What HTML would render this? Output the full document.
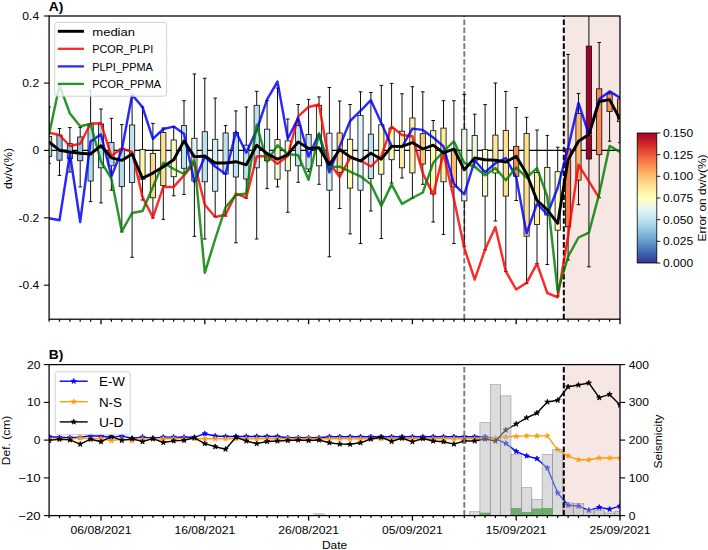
<!DOCTYPE html><html><head><meta charset="utf-8"><title>fig</title><style>html,body{margin:0;padding:0;background:#fff}svg{display:block}text{font-family:"Liberation Sans",sans-serif;fill:#000}</style></head><body>
<svg width="708" height="550" viewBox="0 0 708 550">
<rect width="708" height="550" fill="#fff"/>
<defs><clipPath id="ca"><rect x="49.1" y="16.0" width="570.9" height="303.2"/></clipPath><clipPath id="cb"><rect x="49.1" y="364.6" width="570.9" height="151.0"/></clipPath>
<linearGradient id="cbg" x1="0" y1="1" x2="0" y2="0"><stop offset="0%" stop-color="#313695"/><stop offset="10%" stop-color="#4575b4"/><stop offset="20%" stop-color="#74add1"/><stop offset="30%" stop-color="#abd9e9"/><stop offset="40%" stop-color="#e0f3f8"/><stop offset="50%" stop-color="#ffffbf"/><stop offset="60%" stop-color="#fee090"/><stop offset="70%" stop-color="#fdae61"/><stop offset="80%" stop-color="#f46d43"/><stop offset="90%" stop-color="#d73027"/><stop offset="100%" stop-color="#a50026"/></linearGradient></defs>
<g clip-path="url(#ca)">
<rect x="563.8" y="16.0" width="56.2" height="303.2" fill="#f6e7e4"/>
<line x1="49.1" y1="150.4" x2="620.0" y2="150.4" stroke="#000" stroke-width="1.2"/>
<line x1="464.3" y1="319.2" x2="464.3" y2="16.0" stroke="#7a7a7a" stroke-width="1.9" stroke-dasharray="5.55 2.4"/>
<line x1="563.8" y1="319.2" x2="563.8" y2="16.0" stroke="#000" stroke-width="2.0" stroke-dasharray="5.55 2.4"/>
<path d="M49.1 107.0V136.5M49.1 156.4V163.6M47.3 107.0h3.6M47.3 163.6h3.6" stroke="#000" stroke-width="0.95" fill="none"/>
<rect x="46.5" y="136.5" width="5.2" height="19.9" fill="#abd9e9" stroke="#111" stroke-width="0.85"/>
<line x1="46.5" y1="141.9" x2="51.7" y2="141.9" stroke="#ff8c1a" stroke-width="1"/>
<path d="M59.5 128.5V135.0M59.5 160.2V175.4M57.7 128.5h3.6M57.7 175.4h3.6" stroke="#000" stroke-width="0.95" fill="none"/>
<rect x="56.9" y="135.0" width="5.2" height="25.2" fill="#91c4de" stroke="#111" stroke-width="0.85"/>
<line x1="56.9" y1="150.3" x2="62.1" y2="150.3" stroke="#ff8c1a" stroke-width="1"/>
<path d="M69.9 127.6V143.6M69.9 158.7V172.0M68.1 127.6h3.6M68.1 172.0h3.6" stroke="#000" stroke-width="0.95" fill="none"/>
<rect x="67.3" y="143.6" width="5.2" height="15.1" fill="#91c4de" stroke="#111" stroke-width="0.85"/>
<line x1="67.3" y1="152.0" x2="72.5" y2="152.0" stroke="#ff8c1a" stroke-width="1"/>
<path d="M80.2 127.6V137.0M80.2 160.7V186.9M78.4 127.6h3.6M78.4 186.9h3.6" stroke="#000" stroke-width="0.95" fill="none"/>
<rect x="77.6" y="137.0" width="5.2" height="23.7" fill="#99cae1" stroke="#111" stroke-width="0.85"/>
<line x1="77.6" y1="153.3" x2="82.8" y2="153.3" stroke="#ff8c1a" stroke-width="1"/>
<path d="M90.6 90.7V124.0M90.6 181.0V201.6M88.8 90.7h3.6M88.8 201.6h3.6" stroke="#000" stroke-width="0.95" fill="none"/>
<rect x="88.0" y="124.0" width="5.2" height="57.0" fill="#b2dceb" stroke="#111" stroke-width="0.85"/>
<line x1="88.0" y1="154.0" x2="93.2" y2="154.0" stroke="#ff8c1a" stroke-width="1"/>
<path d="M101.0 109.0V124.0M101.0 167.8V202.9M99.2 109.0h3.6M99.2 202.9h3.6" stroke="#000" stroke-width="0.95" fill="none"/>
<rect x="98.4" y="124.0" width="5.2" height="43.8" fill="#b2dceb" stroke="#111" stroke-width="0.85"/>
<line x1="98.4" y1="145.7" x2="103.6" y2="145.7" stroke="#ff8c1a" stroke-width="1"/>
<path d="M111.4 118.3V142.5M111.4 165.8V190.2M109.6 118.3h3.6M109.6 190.2h3.6" stroke="#000" stroke-width="0.95" fill="none"/>
<rect x="108.8" y="142.5" width="5.2" height="23.3" fill="#b2dceb" stroke="#111" stroke-width="0.85"/>
<line x1="108.8" y1="157.9" x2="114.0" y2="157.9" stroke="#ff8c1a" stroke-width="1"/>
<path d="M121.8 124.6V149.0M121.8 186.4V231.9M120.0 124.6h3.6M120.0 231.9h3.6" stroke="#000" stroke-width="0.95" fill="none"/>
<rect x="119.2" y="149.0" width="5.2" height="37.4" fill="#b2dceb" stroke="#111" stroke-width="0.85"/>
<line x1="119.2" y1="160.4" x2="124.4" y2="160.4" stroke="#ff8c1a" stroke-width="1"/>
<path d="M132.1 96.0V125.0M132.1 182.5V257.3M130.3 96.0h3.6M130.3 257.3h3.6" stroke="#000" stroke-width="0.95" fill="none"/>
<rect x="129.5" y="125.0" width="5.2" height="57.5" fill="#bde2ee" stroke="#111" stroke-width="0.85"/>
<line x1="129.5" y1="154.0" x2="134.7" y2="154.0" stroke="#ff8c1a" stroke-width="1"/>
<path d="M142.5 107.0V149.5M142.5 179.2V200.0M140.7 107.0h3.6M140.7 200.0h3.6" stroke="#000" stroke-width="0.95" fill="none"/>
<rect x="139.9" y="149.5" width="5.2" height="29.7" fill="#fff5af" stroke="#111" stroke-width="0.85"/>
<line x1="139.9" y1="178.2" x2="145.1" y2="178.2" stroke="#ff8c1a" stroke-width="1"/>
<path d="M152.9 123.4V153.4M152.9 197.8V218.1M151.1 123.4h3.6M151.1 218.1h3.6" stroke="#000" stroke-width="0.95" fill="none"/>
<rect x="150.3" y="153.4" width="5.2" height="44.4" fill="#fed687" stroke="#111" stroke-width="0.85"/>
<line x1="150.3" y1="173.1" x2="155.5" y2="173.1" stroke="#ff8c1a" stroke-width="1"/>
<path d="M163.3 128.0V132.5M163.3 185.6V219.4M161.5 128.0h3.6M161.5 219.4h3.6" stroke="#000" stroke-width="0.95" fill="none"/>
<rect x="160.7" y="132.5" width="5.2" height="53.1" fill="#fee090" stroke="#111" stroke-width="0.85"/>
<line x1="160.7" y1="166.8" x2="165.9" y2="166.8" stroke="#ff8c1a" stroke-width="1"/>
<path d="M173.7 127.0V140.0M173.7 176.7V195.8M171.9 127.0h3.6M171.9 195.8h3.6" stroke="#000" stroke-width="0.95" fill="none"/>
<rect x="171.1" y="140.0" width="5.2" height="36.7" fill="#fbfdc7" stroke="#111" stroke-width="0.85"/>
<line x1="171.1" y1="159.7" x2="176.3" y2="159.7" stroke="#ff8c1a" stroke-width="1"/>
<path d="M184.0 100.7V125.6M184.0 168.3V194.5M182.2 100.7h3.6M182.2 194.5h3.6" stroke="#000" stroke-width="0.95" fill="none"/>
<rect x="181.4" y="125.6" width="5.2" height="42.7" fill="#bde2ee" stroke="#111" stroke-width="0.85"/>
<line x1="181.4" y1="140.9" x2="186.6" y2="140.9" stroke="#ff8c1a" stroke-width="1"/>
<path d="M194.4 74.0V138.3M194.4 181.0V236.4M192.6 74.0h3.6M192.6 236.4h3.6" stroke="#000" stroke-width="0.95" fill="none"/>
<rect x="191.8" y="138.3" width="5.2" height="42.7" fill="#e0f3f8" stroke="#111" stroke-width="0.85"/>
<line x1="191.8" y1="156.9" x2="197.0" y2="156.9" stroke="#ff8c1a" stroke-width="1"/>
<path d="M204.8 78.3V131.7M204.8 181.8V239.0M203.0 78.3h3.6M203.0 239.0h3.6" stroke="#000" stroke-width="0.95" fill="none"/>
<rect x="202.2" y="131.7" width="5.2" height="50.1" fill="#bde2ee" stroke="#111" stroke-width="0.85"/>
<line x1="202.2" y1="156.0" x2="207.4" y2="156.0" stroke="#ff8c1a" stroke-width="1"/>
<path d="M215.2 98.1V139.3M215.2 191.2V216.6M213.4 98.1h3.6M213.4 216.6h3.6" stroke="#000" stroke-width="0.95" fill="none"/>
<rect x="212.6" y="139.3" width="5.2" height="51.9" fill="#d5eef5" stroke="#111" stroke-width="0.85"/>
<line x1="212.6" y1="163.0" x2="217.8" y2="163.0" stroke="#ff8c1a" stroke-width="1"/>
<path d="M225.6 125.6V133.0M225.6 174.0V216.1M223.8 125.6h3.6M223.8 216.1h3.6" stroke="#000" stroke-width="0.95" fill="none"/>
<rect x="223.0" y="133.0" width="5.2" height="41.0" fill="#bde2ee" stroke="#111" stroke-width="0.85"/>
<line x1="223.0" y1="163.0" x2="228.2" y2="163.0" stroke="#ff8c1a" stroke-width="1"/>
<path d="M235.9 110.9V132.5M235.9 177.0V242.8M234.1 110.9h3.6M234.1 242.8h3.6" stroke="#000" stroke-width="0.95" fill="none"/>
<rect x="233.3" y="132.5" width="5.2" height="44.5" fill="#bde2ee" stroke="#111" stroke-width="0.85"/>
<line x1="233.3" y1="161.7" x2="238.5" y2="161.7" stroke="#ff8c1a" stroke-width="1"/>
<path d="M246.3 107.0V145.2M246.3 179.0V198.3M244.5 107.0h3.6M244.5 198.3h3.6" stroke="#000" stroke-width="0.95" fill="none"/>
<rect x="243.7" y="145.2" width="5.2" height="33.8" fill="#bde2ee" stroke="#111" stroke-width="0.85"/>
<line x1="243.7" y1="164.8" x2="248.9" y2="164.8" stroke="#ff8c1a" stroke-width="1"/>
<path d="M256.7 91.3V105.3M256.7 167.8V239.0M254.9 91.3h3.6M254.9 239.0h3.6" stroke="#000" stroke-width="0.95" fill="none"/>
<rect x="254.1" y="105.3" width="5.2" height="62.5" fill="#bde2ee" stroke="#111" stroke-width="0.85"/>
<line x1="254.1" y1="145.2" x2="259.3" y2="145.2" stroke="#ff8c1a" stroke-width="1"/>
<path d="M267.1 100.7V129.2M267.1 160.7V188.6M265.3 100.7h3.6M265.3 188.6h3.6" stroke="#000" stroke-width="0.95" fill="none"/>
<rect x="264.5" y="129.2" width="5.2" height="31.5" fill="#d5eef5" stroke="#111" stroke-width="0.85"/>
<line x1="264.5" y1="153.6" x2="269.7" y2="153.6" stroke="#ff8c1a" stroke-width="1"/>
<path d="M277.5 88.0V139.6M277.5 179.2V186.9M275.7 88.0h3.6M275.7 186.9h3.6" stroke="#000" stroke-width="0.95" fill="none"/>
<rect x="274.9" y="139.6" width="5.2" height="39.6" fill="#f5fbd2" stroke="#111" stroke-width="0.85"/>
<line x1="274.9" y1="159.2" x2="280.1" y2="159.2" stroke="#ff8c1a" stroke-width="1"/>
<path d="M287.8 119.0V140.9M287.8 170.8V212.3M286.0 119.0h3.6M286.0 212.3h3.6" stroke="#000" stroke-width="0.95" fill="none"/>
<rect x="285.2" y="140.9" width="5.2" height="29.9" fill="#f1f9da" stroke="#111" stroke-width="0.85"/>
<line x1="285.2" y1="154.6" x2="290.4" y2="154.6" stroke="#ff8c1a" stroke-width="1"/>
<path d="M298.2 104.5V125.6M298.2 165.8V182.3M296.4 104.5h3.6M296.4 182.3h3.6" stroke="#000" stroke-width="0.95" fill="none"/>
<rect x="295.6" y="125.6" width="5.2" height="40.2" fill="#c4e5f0" stroke="#111" stroke-width="0.85"/>
<line x1="295.6" y1="141.9" x2="300.8" y2="141.9" stroke="#ff8c1a" stroke-width="1"/>
<path d="M308.6 99.4V134.5M308.6 169.0V171.6M306.8 99.4h3.6M306.8 171.6h3.6" stroke="#000" stroke-width="0.95" fill="none"/>
<rect x="306.0" y="134.5" width="5.2" height="34.5" fill="#c4e5f0" stroke="#111" stroke-width="0.85"/>
<line x1="306.0" y1="148.5" x2="311.2" y2="148.5" stroke="#ff8c1a" stroke-width="1"/>
<path d="M319.0 96.9V105.5M319.0 165.8V184.3M317.2 96.9h3.6M317.2 184.3h3.6" stroke="#000" stroke-width="0.95" fill="none"/>
<rect x="316.4" y="105.5" width="5.2" height="60.3" fill="#ecf8e1" stroke="#111" stroke-width="0.85"/>
<line x1="316.4" y1="147.7" x2="321.6" y2="147.7" stroke="#ff8c1a" stroke-width="1"/>
<path d="M329.4 87.5V133.2M329.4 190.2V256.8M327.6 87.5h3.6M327.6 256.8h3.6" stroke="#000" stroke-width="0.95" fill="none"/>
<rect x="326.8" y="133.2" width="5.2" height="57.0" fill="#e0f3f8" stroke="#111" stroke-width="0.85"/>
<line x1="326.8" y1="164.8" x2="332.0" y2="164.8" stroke="#ff8c1a" stroke-width="1"/>
<path d="M339.7 101.0V133.0M339.7 172.4V208.5M337.9 101.0h3.6M337.9 208.5h3.6" stroke="#000" stroke-width="0.95" fill="none"/>
<rect x="337.1" y="133.0" width="5.2" height="39.4" fill="#fed98a" stroke="#111" stroke-width="0.85"/>
<line x1="337.1" y1="149.5" x2="342.3" y2="149.5" stroke="#ff8c1a" stroke-width="1"/>
<path d="M350.1 104.5V139.3M350.1 188.1V233.9M348.3 104.5h3.6M348.3 233.9h3.6" stroke="#000" stroke-width="0.95" fill="none"/>
<rect x="347.5" y="139.3" width="5.2" height="48.8" fill="#ffffbf" stroke="#111" stroke-width="0.85"/>
<line x1="347.5" y1="156.9" x2="352.7" y2="156.9" stroke="#ff8c1a" stroke-width="1"/>
<path d="M360.5 91.8V115.4M360.5 190.2V243.6M358.7 91.8h3.6M358.7 243.6h3.6" stroke="#000" stroke-width="0.95" fill="none"/>
<rect x="357.9" y="115.4" width="5.2" height="74.8" fill="#e0f3f8" stroke="#111" stroke-width="0.85"/>
<line x1="357.9" y1="161.0" x2="363.1" y2="161.0" stroke="#ff8c1a" stroke-width="1"/>
<path d="M370.9 92.5V134.2M370.9 178.5V211.0M369.1 92.5h3.6M369.1 211.0h3.6" stroke="#000" stroke-width="0.95" fill="none"/>
<rect x="368.3" y="134.2" width="5.2" height="44.3" fill="#bde2ee" stroke="#111" stroke-width="0.85"/>
<line x1="368.3" y1="153.2" x2="373.5" y2="153.2" stroke="#ff8c1a" stroke-width="1"/>
<path d="M381.3 85.4V124.8M381.3 174.2V238.5M379.5 85.4h3.6M379.5 238.5h3.6" stroke="#000" stroke-width="0.95" fill="none"/>
<rect x="378.7" y="124.8" width="5.2" height="49.4" fill="#fffdbc" stroke="#111" stroke-width="0.85"/>
<line x1="378.7" y1="159.2" x2="383.9" y2="159.2" stroke="#ff8c1a" stroke-width="1"/>
<path d="M391.6 83.4V128.1M391.6 159.7V183.0M389.8 83.4h3.6M389.8 183.0h3.6" stroke="#000" stroke-width="0.95" fill="none"/>
<rect x="389.0" y="128.1" width="5.2" height="31.6" fill="#fffbb9" stroke="#111" stroke-width="0.85"/>
<line x1="389.0" y1="146.4" x2="394.2" y2="146.4" stroke="#ff8c1a" stroke-width="1"/>
<path d="M402.0 93.8V131.2M402.0 167.8V178.0M400.2 93.8h3.6M400.2 178.0h3.6" stroke="#000" stroke-width="0.95" fill="none"/>
<rect x="399.4" y="131.2" width="5.2" height="36.6" fill="#feeaa0" stroke="#111" stroke-width="0.85"/>
<line x1="399.4" y1="146.4" x2="404.6" y2="146.4" stroke="#ff8c1a" stroke-width="1"/>
<path d="M412.4 86.7V118.0M412.4 172.9V198.3M410.6 86.7h3.6M410.6 198.3h3.6" stroke="#000" stroke-width="0.95" fill="none"/>
<rect x="409.8" y="118.0" width="5.2" height="54.9" fill="#fff3ac" stroke="#111" stroke-width="0.85"/>
<line x1="409.8" y1="142.6" x2="415.0" y2="142.6" stroke="#ff8c1a" stroke-width="1"/>
<path d="M422.8 91.8V133.7M422.8 164.0V184.3M421.0 91.8h3.6M421.0 184.3h3.6" stroke="#000" stroke-width="0.95" fill="none"/>
<rect x="420.2" y="133.7" width="5.2" height="30.3" fill="#fdc577" stroke="#111" stroke-width="0.85"/>
<line x1="420.2" y1="149.0" x2="425.4" y2="149.0" stroke="#ff8c1a" stroke-width="1"/>
<path d="M433.2 120.5V130.7M433.2 194.0V222.0M431.4 120.5h3.6M431.4 222.0h3.6" stroke="#000" stroke-width="0.95" fill="none"/>
<rect x="430.6" y="130.7" width="5.2" height="63.3" fill="#fffbb9" stroke="#111" stroke-width="0.85"/>
<line x1="430.6" y1="145.2" x2="435.8" y2="145.2" stroke="#ff8c1a" stroke-width="1"/>
<path d="M443.5 100.7V128.1M443.5 181.8V234.4M441.7 100.7h3.6M441.7 234.4h3.6" stroke="#000" stroke-width="0.95" fill="none"/>
<rect x="440.9" y="128.1" width="5.2" height="53.7" fill="#feeca3" stroke="#111" stroke-width="0.85"/>
<line x1="440.9" y1="152.8" x2="446.1" y2="152.8" stroke="#ff8c1a" stroke-width="1"/>
<path d="M453.9 100.7V149.0M453.9 186.9V243.6M452.1 100.7h3.6M452.1 243.6h3.6" stroke="#000" stroke-width="0.95" fill="none"/>
<rect x="451.3" y="149.0" width="5.2" height="37.9" fill="#fdb86a" stroke="#111" stroke-width="0.85"/>
<line x1="451.3" y1="149.0" x2="456.5" y2="149.0" stroke="#ff8c1a" stroke-width="1"/>
<path d="M464.3 94.3V129.2M464.3 200.9V246.1M462.5 94.3h3.6M462.5 246.1h3.6" stroke="#000" stroke-width="0.95" fill="none"/>
<rect x="461.7" y="129.2" width="5.2" height="71.7" fill="#ecf8e1" stroke="#111" stroke-width="0.85"/>
<line x1="461.7" y1="169.8" x2="466.9" y2="169.8" stroke="#ff8c1a" stroke-width="1"/>
<path d="M474.7 114.2V135.5M474.7 161.0V167.0M472.9 114.2h3.6M472.9 167.0h3.6" stroke="#000" stroke-width="0.95" fill="none"/>
<rect x="472.1" y="135.5" width="5.2" height="25.5" fill="#ecf8e1" stroke="#111" stroke-width="0.85"/>
<line x1="472.1" y1="157.9" x2="477.3" y2="157.9" stroke="#ff8c1a" stroke-width="1"/>
<path d="M485.1 104.6V149.6M485.1 196.1V249.8M483.3 104.6h3.6M483.3 249.8h3.6" stroke="#000" stroke-width="0.95" fill="none"/>
<rect x="482.5" y="149.6" width="5.2" height="46.5" fill="#f5fbd2" stroke="#111" stroke-width="0.85"/>
<line x1="482.5" y1="159.7" x2="487.7" y2="159.7" stroke="#ff8c1a" stroke-width="1"/>
<path d="M495.4 83.0V135.1M495.4 173.0V221.0M493.6 83.0h3.6M493.6 221.0h3.6" stroke="#000" stroke-width="0.95" fill="none"/>
<rect x="492.8" y="135.1" width="5.2" height="37.9" fill="#fee89d" stroke="#111" stroke-width="0.85"/>
<line x1="492.8" y1="160.2" x2="498.0" y2="160.2" stroke="#ff8c1a" stroke-width="1"/>
<path d="M505.8 91.4V130.5M505.8 196.1V271.4M504.0 91.4h3.6M504.0 271.4h3.6" stroke="#000" stroke-width="0.95" fill="none"/>
<rect x="503.2" y="130.5" width="5.2" height="65.6" fill="#fee090" stroke="#111" stroke-width="0.85"/>
<line x1="503.2" y1="162.0" x2="508.4" y2="162.0" stroke="#ff8c1a" stroke-width="1"/>
<path d="M516.2 107.5V146.3M516.2 176.3V200.5M514.4 107.5h3.6M514.4 200.5h3.6" stroke="#000" stroke-width="0.95" fill="none"/>
<rect x="513.6" y="146.3" width="5.2" height="30.0" fill="#f88b51" stroke="#111" stroke-width="0.85"/>
<line x1="513.6" y1="156.3" x2="518.8" y2="156.3" stroke="#ff8c1a" stroke-width="1"/>
<path d="M526.6 117.3V133.5M526.6 236.2V283.6M524.8 117.3h3.6M524.8 283.6h3.6" stroke="#000" stroke-width="0.95" fill="none"/>
<rect x="524.0" y="133.5" width="5.2" height="102.7" fill="#fee090" stroke="#111" stroke-width="0.85"/>
<line x1="524.0" y1="173.7" x2="529.2" y2="173.7" stroke="#ff8c1a" stroke-width="1"/>
<path d="M537.0 130.0V172.5M537.0 224.5V263.7M535.2 130.0h3.6M535.2 263.7h3.6" stroke="#000" stroke-width="0.95" fill="none"/>
<rect x="534.4" y="172.5" width="5.2" height="52.0" fill="#feeca3" stroke="#111" stroke-width="0.85"/>
<line x1="534.4" y1="200.4" x2="539.6" y2="200.4" stroke="#ff8c1a" stroke-width="1"/>
<path d="M547.3 135.4V167.4M547.3 215.0V264.5M545.5 135.4h3.6M545.5 264.5h3.6" stroke="#000" stroke-width="0.95" fill="none"/>
<rect x="544.7" y="167.4" width="5.2" height="47.6" fill="#eef9dd" stroke="#111" stroke-width="0.85"/>
<line x1="544.7" y1="209.8" x2="549.9" y2="209.8" stroke="#ff8c1a" stroke-width="1"/>
<path d="M557.7 147.2V171.7M557.7 230.2V296.0M555.9 147.2h3.6M555.9 296.0h3.6" stroke="#000" stroke-width="0.95" fill="none"/>
<rect x="555.1" y="171.7" width="5.2" height="58.5" fill="#fdfec3" stroke="#111" stroke-width="0.85"/>
<line x1="555.1" y1="223.3" x2="560.3" y2="223.3" stroke="#ff8c1a" stroke-width="1"/>
<path d="M568.1 54.5V148.8M568.1 226.8V260.0M566.3 54.5h3.6M566.3 260.0h3.6" stroke="#000" stroke-width="0.95" fill="none"/>
<rect x="565.5" y="148.8" width="5.2" height="78.0" fill="#f67a49" stroke="#111" stroke-width="0.85"/>
<line x1="565.5" y1="159.7" x2="570.7" y2="159.7" stroke="#ff8c1a" stroke-width="1"/>
<path d="M578.5 93.4V113.5M578.5 180.1V204.7M576.7 93.4h3.6M576.7 204.7h3.6" stroke="#000" stroke-width="0.95" fill="none"/>
<rect x="575.9" y="113.5" width="5.2" height="66.6" fill="#fdb86a" stroke="#111" stroke-width="0.85"/>
<line x1="575.9" y1="141.2" x2="581.1" y2="141.2" stroke="#ff8c1a" stroke-width="1"/>
<path d="M588.9 10.0V46.1M588.9 159.0V266.8M587.1 10.0h3.6M587.1 266.8h3.6" stroke="#000" stroke-width="0.95" fill="none"/>
<rect x="586.3" y="46.1" width="5.2" height="112.9" fill="#a50026" stroke="#111" stroke-width="0.85"/>
<line x1="586.3" y1="134.5" x2="591.5" y2="134.5" stroke="#ff8c1a" stroke-width="1"/>
<path d="M599.2 42.5V88.8M599.2 154.7V197.7M597.4 42.5h3.6M597.4 197.7h3.6" stroke="#000" stroke-width="0.95" fill="none"/>
<rect x="596.6" y="88.8" width="5.2" height="65.9" fill="#f88b51" stroke="#111" stroke-width="0.85"/>
<line x1="596.6" y1="101.5" x2="601.8" y2="101.5" stroke="#ff8c1a" stroke-width="1"/>
<path d="M609.6 92.0V93.9M609.6 111.5V141.2M607.8 92.0h3.6M607.8 141.2h3.6" stroke="#000" stroke-width="0.95" fill="none"/>
<rect x="607.0" y="93.9" width="5.2" height="17.6" fill="#f99455" stroke="#111" stroke-width="0.85"/>
<line x1="607.0" y1="99.6" x2="612.2" y2="99.6" stroke="#ff8c1a" stroke-width="1"/>
<path d="M620.0 97.0V99.0M620.0 121.7V142.7M618.2 97.0h3.6M618.2 142.7h3.6" stroke="#000" stroke-width="0.95" fill="none"/>
<rect x="617.4" y="99.0" width="5.2" height="22.7" fill="#f99455" stroke="#111" stroke-width="0.85"/>
<line x1="617.4" y1="119.4" x2="622.6" y2="119.4" stroke="#ff8c1a" stroke-width="1"/>
<polyline points="49.1,132.7 59.5,135.0 69.9,146.0 80.2,143.7 90.6,123.5 101.0,123.3 111.4,156.0 121.8,148.4 132.1,152.0 142.5,197.0 152.9,217.4 163.3,186.9 173.7,186.9 184.0,175.4 194.4,162.7 204.8,204.7 215.2,217.0 225.6,214.8 235.9,193.6 246.3,197.5 256.7,156.5 267.1,156.0 277.5,163.7 287.8,156.0 298.2,116.4 308.6,107.0 319.0,104.5 329.4,163.0 339.7,177.0 350.1,157.9 360.5,160.4 370.9,166.5 381.3,156.1 391.6,126.6 402.0,135.0 412.4,136.3 422.8,173.2 433.2,194.6 443.5,153.3 453.9,199.0 464.3,247.9 474.7,279.7 485.1,249.5 495.4,227.0 505.8,271.4 516.2,289.5 526.6,282.8 537.0,263.7 547.3,293.0 557.7,297.3 568.1,236.0 578.5,164.8 588.9,181.4 599.2,197.9" fill="none" stroke="#ff0000" stroke-opacity="0.84" stroke-width="2.45" stroke-linejoin="round"/>
<polyline points="49.1,218.3 59.5,220.3 69.9,153.8 80.2,222.0 90.6,141.5 101.0,134.2 111.4,176.5 121.8,150.0 132.1,94.9 142.5,107.0 152.9,138.8 163.3,129.0 173.7,126.6 184.0,133.7 194.4,182.0 204.8,156.5 215.2,166.6 225.6,174.0 235.9,131.7 246.3,152.8 256.7,130.0 267.1,99.4 277.5,81.6 287.8,138.8 298.2,118.0 308.6,156.6 319.0,133.7 329.4,172.4 339.7,146.4 350.1,121.0 360.5,110.9 370.9,100.2 381.3,123.0 391.6,145.9 402.0,147.0 412.4,128.6 422.8,129.9 433.2,137.5 443.5,146.4 453.9,183.8 464.3,194.3 474.7,160.5 485.1,172.2 495.4,163.3 505.8,158.0 516.2,177.3 526.6,233.5 537.0,203.7 547.3,214.4 557.7,187.7 568.1,148.0 578.5,102.9 588.9,134.4 599.2,99.0 609.6,91.4 620.0,97.7" fill="none" stroke="#0000ff" stroke-opacity="0.84" stroke-width="2.45" stroke-linejoin="round"/>
<polyline points="49.1,134.4 59.5,85.0 69.9,113.6 80.2,126.3 90.6,124.0 101.0,161.7 111.4,178.5 121.8,231.4 132.1,213.0 142.5,211.0 152.9,187.0 163.3,162.7 173.7,169.0 184.0,174.0 194.4,160.0 204.8,272.8 215.2,239.0 225.6,207.2 235.9,195.0 246.3,193.5 256.7,124.8 267.1,161.7 277.5,145.2 287.8,154.0 298.2,155.3 308.6,179.8 319.0,133.7 329.4,166.8 339.7,166.7 350.1,171.7 360.5,176.3 370.9,184.4 381.3,205.9 391.6,184.4 402.0,203.9 412.4,198.0 422.8,192.5 433.2,162.8 443.5,151.4 453.9,141.4 464.3,163.0 474.7,166.8 485.1,175.3 495.4,168.0 505.8,180.2 516.2,167.5 526.6,177.5 537.0,168.1 547.3,196.5 557.7,291.7 568.1,256.6 578.5,237.5 588.9,232.7 599.2,193.9 609.6,145.9 620.0,152.0" fill="none" stroke="#008000" stroke-opacity="0.84" stroke-width="2.45" stroke-linejoin="round"/>
<polyline points="49.1,141.9 59.5,150.3 69.9,152.0 80.2,153.3 90.6,154.0 101.0,145.7 111.4,157.9 121.8,160.4 132.1,154.0 142.5,178.2 152.9,173.1 163.3,166.8 173.7,159.7 184.0,140.9 194.4,156.9 204.8,156.0 215.2,163.0 225.6,163.0 235.9,161.7 246.3,164.8 256.7,145.2 267.1,153.6 277.5,159.2 287.8,154.6 298.2,141.9 308.6,148.5 319.0,147.7 329.4,164.8 339.7,149.5 350.1,156.9 360.5,161.0 370.9,153.2 381.3,159.2 391.6,146.4 402.0,146.4 412.4,142.6 422.8,149.0 433.2,145.2 443.5,152.8 453.9,149.0 464.3,169.8 474.7,157.9 485.1,159.7 495.4,160.2 505.8,162.0 516.2,156.3 526.6,173.7 537.0,200.4 547.3,209.8 557.7,223.3 568.1,159.7 578.5,141.2 588.9,134.5 599.2,101.5 609.6,99.6 620.0,119.4" fill="none" stroke="#000" stroke-width="2.9" stroke-linejoin="round"/>
</g>
<rect x="49.1" y="16.0" width="570.9" height="303.2" fill="none" stroke="#000" stroke-width="1.25"/>
<line x1="49.1" y1="319.2" x2="49.1" y2="321.7" stroke="#000" stroke-width="1.2"/>
<line x1="49.1" y1="515.6" x2="49.1" y2="518.1" stroke="#000" stroke-width="1.2"/>
<line x1="59.5" y1="319.2" x2="59.5" y2="321.7" stroke="#000" stroke-width="1.2"/>
<line x1="59.5" y1="515.6" x2="59.5" y2="518.1" stroke="#000" stroke-width="1.2"/>
<line x1="69.9" y1="319.2" x2="69.9" y2="321.7" stroke="#000" stroke-width="1.2"/>
<line x1="69.9" y1="515.6" x2="69.9" y2="518.1" stroke="#000" stroke-width="1.2"/>
<line x1="80.2" y1="319.2" x2="80.2" y2="321.7" stroke="#000" stroke-width="1.2"/>
<line x1="80.2" y1="515.6" x2="80.2" y2="518.1" stroke="#000" stroke-width="1.2"/>
<line x1="90.6" y1="319.2" x2="90.6" y2="321.7" stroke="#000" stroke-width="1.2"/>
<line x1="90.6" y1="515.6" x2="90.6" y2="518.1" stroke="#000" stroke-width="1.2"/>
<line x1="101.0" y1="319.2" x2="101.0" y2="324.2" stroke="#000" stroke-width="1.3"/>
<line x1="101.0" y1="515.6" x2="101.0" y2="520.6" stroke="#000" stroke-width="1.3"/>
<line x1="111.4" y1="319.2" x2="111.4" y2="321.7" stroke="#000" stroke-width="1.2"/>
<line x1="111.4" y1="515.6" x2="111.4" y2="518.1" stroke="#000" stroke-width="1.2"/>
<line x1="121.8" y1="319.2" x2="121.8" y2="321.7" stroke="#000" stroke-width="1.2"/>
<line x1="121.8" y1="515.6" x2="121.8" y2="518.1" stroke="#000" stroke-width="1.2"/>
<line x1="132.1" y1="319.2" x2="132.1" y2="321.7" stroke="#000" stroke-width="1.2"/>
<line x1="132.1" y1="515.6" x2="132.1" y2="518.1" stroke="#000" stroke-width="1.2"/>
<line x1="142.5" y1="319.2" x2="142.5" y2="321.7" stroke="#000" stroke-width="1.2"/>
<line x1="142.5" y1="515.6" x2="142.5" y2="518.1" stroke="#000" stroke-width="1.2"/>
<line x1="152.9" y1="319.2" x2="152.9" y2="321.7" stroke="#000" stroke-width="1.2"/>
<line x1="152.9" y1="515.6" x2="152.9" y2="518.1" stroke="#000" stroke-width="1.2"/>
<line x1="163.3" y1="319.2" x2="163.3" y2="321.7" stroke="#000" stroke-width="1.2"/>
<line x1="163.3" y1="515.6" x2="163.3" y2="518.1" stroke="#000" stroke-width="1.2"/>
<line x1="173.7" y1="319.2" x2="173.7" y2="321.7" stroke="#000" stroke-width="1.2"/>
<line x1="173.7" y1="515.6" x2="173.7" y2="518.1" stroke="#000" stroke-width="1.2"/>
<line x1="184.0" y1="319.2" x2="184.0" y2="321.7" stroke="#000" stroke-width="1.2"/>
<line x1="184.0" y1="515.6" x2="184.0" y2="518.1" stroke="#000" stroke-width="1.2"/>
<line x1="194.4" y1="319.2" x2="194.4" y2="321.7" stroke="#000" stroke-width="1.2"/>
<line x1="194.4" y1="515.6" x2="194.4" y2="518.1" stroke="#000" stroke-width="1.2"/>
<line x1="204.8" y1="319.2" x2="204.8" y2="324.2" stroke="#000" stroke-width="1.3"/>
<line x1="204.8" y1="515.6" x2="204.8" y2="520.6" stroke="#000" stroke-width="1.3"/>
<line x1="215.2" y1="319.2" x2="215.2" y2="321.7" stroke="#000" stroke-width="1.2"/>
<line x1="215.2" y1="515.6" x2="215.2" y2="518.1" stroke="#000" stroke-width="1.2"/>
<line x1="225.6" y1="319.2" x2="225.6" y2="321.7" stroke="#000" stroke-width="1.2"/>
<line x1="225.6" y1="515.6" x2="225.6" y2="518.1" stroke="#000" stroke-width="1.2"/>
<line x1="235.9" y1="319.2" x2="235.9" y2="321.7" stroke="#000" stroke-width="1.2"/>
<line x1="235.9" y1="515.6" x2="235.9" y2="518.1" stroke="#000" stroke-width="1.2"/>
<line x1="246.3" y1="319.2" x2="246.3" y2="321.7" stroke="#000" stroke-width="1.2"/>
<line x1="246.3" y1="515.6" x2="246.3" y2="518.1" stroke="#000" stroke-width="1.2"/>
<line x1="256.7" y1="319.2" x2="256.7" y2="321.7" stroke="#000" stroke-width="1.2"/>
<line x1="256.7" y1="515.6" x2="256.7" y2="518.1" stroke="#000" stroke-width="1.2"/>
<line x1="267.1" y1="319.2" x2="267.1" y2="321.7" stroke="#000" stroke-width="1.2"/>
<line x1="267.1" y1="515.6" x2="267.1" y2="518.1" stroke="#000" stroke-width="1.2"/>
<line x1="277.5" y1="319.2" x2="277.5" y2="321.7" stroke="#000" stroke-width="1.2"/>
<line x1="277.5" y1="515.6" x2="277.5" y2="518.1" stroke="#000" stroke-width="1.2"/>
<line x1="287.8" y1="319.2" x2="287.8" y2="321.7" stroke="#000" stroke-width="1.2"/>
<line x1="287.8" y1="515.6" x2="287.8" y2="518.1" stroke="#000" stroke-width="1.2"/>
<line x1="298.2" y1="319.2" x2="298.2" y2="321.7" stroke="#000" stroke-width="1.2"/>
<line x1="298.2" y1="515.6" x2="298.2" y2="518.1" stroke="#000" stroke-width="1.2"/>
<line x1="308.6" y1="319.2" x2="308.6" y2="324.2" stroke="#000" stroke-width="1.3"/>
<line x1="308.6" y1="515.6" x2="308.6" y2="520.6" stroke="#000" stroke-width="1.3"/>
<line x1="319.0" y1="319.2" x2="319.0" y2="321.7" stroke="#000" stroke-width="1.2"/>
<line x1="319.0" y1="515.6" x2="319.0" y2="518.1" stroke="#000" stroke-width="1.2"/>
<line x1="329.4" y1="319.2" x2="329.4" y2="321.7" stroke="#000" stroke-width="1.2"/>
<line x1="329.4" y1="515.6" x2="329.4" y2="518.1" stroke="#000" stroke-width="1.2"/>
<line x1="339.7" y1="319.2" x2="339.7" y2="321.7" stroke="#000" stroke-width="1.2"/>
<line x1="339.7" y1="515.6" x2="339.7" y2="518.1" stroke="#000" stroke-width="1.2"/>
<line x1="350.1" y1="319.2" x2="350.1" y2="321.7" stroke="#000" stroke-width="1.2"/>
<line x1="350.1" y1="515.6" x2="350.1" y2="518.1" stroke="#000" stroke-width="1.2"/>
<line x1="360.5" y1="319.2" x2="360.5" y2="321.7" stroke="#000" stroke-width="1.2"/>
<line x1="360.5" y1="515.6" x2="360.5" y2="518.1" stroke="#000" stroke-width="1.2"/>
<line x1="370.9" y1="319.2" x2="370.9" y2="321.7" stroke="#000" stroke-width="1.2"/>
<line x1="370.9" y1="515.6" x2="370.9" y2="518.1" stroke="#000" stroke-width="1.2"/>
<line x1="381.3" y1="319.2" x2="381.3" y2="321.7" stroke="#000" stroke-width="1.2"/>
<line x1="381.3" y1="515.6" x2="381.3" y2="518.1" stroke="#000" stroke-width="1.2"/>
<line x1="391.6" y1="319.2" x2="391.6" y2="321.7" stroke="#000" stroke-width="1.2"/>
<line x1="391.6" y1="515.6" x2="391.6" y2="518.1" stroke="#000" stroke-width="1.2"/>
<line x1="402.0" y1="319.2" x2="402.0" y2="321.7" stroke="#000" stroke-width="1.2"/>
<line x1="402.0" y1="515.6" x2="402.0" y2="518.1" stroke="#000" stroke-width="1.2"/>
<line x1="412.4" y1="319.2" x2="412.4" y2="324.2" stroke="#000" stroke-width="1.3"/>
<line x1="412.4" y1="515.6" x2="412.4" y2="520.6" stroke="#000" stroke-width="1.3"/>
<line x1="422.8" y1="319.2" x2="422.8" y2="321.7" stroke="#000" stroke-width="1.2"/>
<line x1="422.8" y1="515.6" x2="422.8" y2="518.1" stroke="#000" stroke-width="1.2"/>
<line x1="433.2" y1="319.2" x2="433.2" y2="321.7" stroke="#000" stroke-width="1.2"/>
<line x1="433.2" y1="515.6" x2="433.2" y2="518.1" stroke="#000" stroke-width="1.2"/>
<line x1="443.5" y1="319.2" x2="443.5" y2="321.7" stroke="#000" stroke-width="1.2"/>
<line x1="443.5" y1="515.6" x2="443.5" y2="518.1" stroke="#000" stroke-width="1.2"/>
<line x1="453.9" y1="319.2" x2="453.9" y2="321.7" stroke="#000" stroke-width="1.2"/>
<line x1="453.9" y1="515.6" x2="453.9" y2="518.1" stroke="#000" stroke-width="1.2"/>
<line x1="464.3" y1="319.2" x2="464.3" y2="321.7" stroke="#000" stroke-width="1.2"/>
<line x1="464.3" y1="515.6" x2="464.3" y2="518.1" stroke="#000" stroke-width="1.2"/>
<line x1="474.7" y1="319.2" x2="474.7" y2="321.7" stroke="#000" stroke-width="1.2"/>
<line x1="474.7" y1="515.6" x2="474.7" y2="518.1" stroke="#000" stroke-width="1.2"/>
<line x1="485.1" y1="319.2" x2="485.1" y2="321.7" stroke="#000" stroke-width="1.2"/>
<line x1="485.1" y1="515.6" x2="485.1" y2="518.1" stroke="#000" stroke-width="1.2"/>
<line x1="495.4" y1="319.2" x2="495.4" y2="321.7" stroke="#000" stroke-width="1.2"/>
<line x1="495.4" y1="515.6" x2="495.4" y2="518.1" stroke="#000" stroke-width="1.2"/>
<line x1="505.8" y1="319.2" x2="505.8" y2="321.7" stroke="#000" stroke-width="1.2"/>
<line x1="505.8" y1="515.6" x2="505.8" y2="518.1" stroke="#000" stroke-width="1.2"/>
<line x1="516.2" y1="319.2" x2="516.2" y2="324.2" stroke="#000" stroke-width="1.3"/>
<line x1="516.2" y1="515.6" x2="516.2" y2="520.6" stroke="#000" stroke-width="1.3"/>
<line x1="526.6" y1="319.2" x2="526.6" y2="321.7" stroke="#000" stroke-width="1.2"/>
<line x1="526.6" y1="515.6" x2="526.6" y2="518.1" stroke="#000" stroke-width="1.2"/>
<line x1="537.0" y1="319.2" x2="537.0" y2="321.7" stroke="#000" stroke-width="1.2"/>
<line x1="537.0" y1="515.6" x2="537.0" y2="518.1" stroke="#000" stroke-width="1.2"/>
<line x1="547.3" y1="319.2" x2="547.3" y2="321.7" stroke="#000" stroke-width="1.2"/>
<line x1="547.3" y1="515.6" x2="547.3" y2="518.1" stroke="#000" stroke-width="1.2"/>
<line x1="557.7" y1="319.2" x2="557.7" y2="321.7" stroke="#000" stroke-width="1.2"/>
<line x1="557.7" y1="515.6" x2="557.7" y2="518.1" stroke="#000" stroke-width="1.2"/>
<line x1="568.1" y1="319.2" x2="568.1" y2="321.7" stroke="#000" stroke-width="1.2"/>
<line x1="568.1" y1="515.6" x2="568.1" y2="518.1" stroke="#000" stroke-width="1.2"/>
<line x1="578.5" y1="319.2" x2="578.5" y2="321.7" stroke="#000" stroke-width="1.2"/>
<line x1="578.5" y1="515.6" x2="578.5" y2="518.1" stroke="#000" stroke-width="1.2"/>
<line x1="588.9" y1="319.2" x2="588.9" y2="321.7" stroke="#000" stroke-width="1.2"/>
<line x1="588.9" y1="515.6" x2="588.9" y2="518.1" stroke="#000" stroke-width="1.2"/>
<line x1="599.2" y1="319.2" x2="599.2" y2="321.7" stroke="#000" stroke-width="1.2"/>
<line x1="599.2" y1="515.6" x2="599.2" y2="518.1" stroke="#000" stroke-width="1.2"/>
<line x1="609.6" y1="319.2" x2="609.6" y2="321.7" stroke="#000" stroke-width="1.2"/>
<line x1="609.6" y1="515.6" x2="609.6" y2="518.1" stroke="#000" stroke-width="1.2"/>
<line x1="620.0" y1="319.2" x2="620.0" y2="324.2" stroke="#000" stroke-width="1.3"/>
<line x1="620.0" y1="515.6" x2="620.0" y2="520.6" stroke="#000" stroke-width="1.3"/>
<line x1="43.9" y1="16.0" x2="49.1" y2="16.0" stroke="#000" stroke-width="1.1"/>
<text transform="translate(39.1,19.9)" font-size="10.9" text-anchor="end" font-weight="normal" fill="#000" textLength="16.8" lengthAdjust="spacingAndGlyphs">0.4</text>
<line x1="43.9" y1="83.1" x2="49.1" y2="83.1" stroke="#000" stroke-width="1.1"/>
<text transform="translate(39.1,87.0)" font-size="10.9" text-anchor="end" font-weight="normal" fill="#000" textLength="16.8" lengthAdjust="spacingAndGlyphs">0.2</text>
<line x1="43.9" y1="150.4" x2="49.1" y2="150.4" stroke="#000" stroke-width="1.1"/>
<text transform="translate(39.1,154.3)" font-size="10.9" text-anchor="end" font-weight="normal" fill="#000" textLength="6.7" lengthAdjust="spacingAndGlyphs">0</text>
<line x1="43.9" y1="217.8" x2="49.1" y2="217.8" stroke="#000" stroke-width="1.1"/>
<text transform="translate(39.1,221.7)" font-size="10.9" text-anchor="end" font-weight="normal" fill="#000" textLength="20.6" lengthAdjust="spacingAndGlyphs">-0.2</text>
<line x1="43.9" y1="285.2" x2="49.1" y2="285.2" stroke="#000" stroke-width="1.1"/>
<text transform="translate(39.1,289.1)" font-size="10.9" text-anchor="end" font-weight="normal" fill="#000" textLength="20.6" lengthAdjust="spacingAndGlyphs">-0.4</text>
<text transform="translate(12.3,168.5) rotate(-90)" font-size="10.9" text-anchor="middle" font-weight="normal" fill="#000" textLength="41.0" lengthAdjust="spacingAndGlyphs">dv/v(%)</text>
<text transform="translate(48.8,10.9)" font-size="12.3" text-anchor="start" font-weight="bold" fill="#000" textLength="14.6" lengthAdjust="spacingAndGlyphs">A)</text>
<rect x="54.7" y="22.4" width="111.9" height="73.8" rx="2.5" fill="#fff" fill-opacity="0.8" stroke="#ccc" stroke-width="0.9"/>
<line x1="57.8" y1="31.3" x2="83.9" y2="31.3" stroke="#000" stroke-opacity="1" stroke-width="2.9"/>
<text transform="translate(92.3,35.5)" font-size="11.7" text-anchor="start" font-weight="normal" fill="#000" textLength="42.7" lengthAdjust="spacingAndGlyphs">median</text>
<line x1="57.8" y1="48.8" x2="83.9" y2="48.8" stroke="#ff0000" stroke-opacity="0.84" stroke-width="2.3"/>
<text transform="translate(92.3,53.0)" font-size="11.7" text-anchor="start" font-weight="normal" fill="#000" textLength="60.9" lengthAdjust="spacingAndGlyphs">PCOR_PLPI</text>
<line x1="57.8" y1="66.4" x2="83.9" y2="66.4" stroke="#0000ff" stroke-opacity="0.84" stroke-width="2.3"/>
<text transform="translate(92.3,70.6)" font-size="11.7" text-anchor="start" font-weight="normal" fill="#000" textLength="60.5" lengthAdjust="spacingAndGlyphs">PLPI_PPMA</text>
<line x1="57.8" y1="83.9" x2="83.9" y2="83.9" stroke="#008000" stroke-opacity="0.84" stroke-width="2.3"/>
<text transform="translate(92.3,88.1)" font-size="11.7" text-anchor="start" font-weight="normal" fill="#000" textLength="68.8" lengthAdjust="spacingAndGlyphs">PCOR_PPMA</text>
<rect x="637.2" y="133" width="19.6" height="130" fill="url(#cbg)" stroke="#000" stroke-width="0.8"/>
<line x1="656.8" y1="263.0" x2="660.3" y2="263.0" stroke="#000" stroke-width="0.9"/>
<text transform="translate(663.0,266.9)" font-size="10.9" text-anchor="start" font-weight="normal" fill="#000" textLength="30.2" lengthAdjust="spacingAndGlyphs">0.000</text>
<line x1="656.8" y1="241.3" x2="660.3" y2="241.3" stroke="#000" stroke-width="0.9"/>
<text transform="translate(663.0,245.2)" font-size="10.9" text-anchor="start" font-weight="normal" fill="#000" textLength="30.2" lengthAdjust="spacingAndGlyphs">0.025</text>
<line x1="656.8" y1="219.7" x2="660.3" y2="219.7" stroke="#000" stroke-width="0.9"/>
<text transform="translate(663.0,223.6)" font-size="10.9" text-anchor="start" font-weight="normal" fill="#000" textLength="30.2" lengthAdjust="spacingAndGlyphs">0.050</text>
<line x1="656.8" y1="198.0" x2="660.3" y2="198.0" stroke="#000" stroke-width="0.9"/>
<text transform="translate(663.0,201.9)" font-size="10.9" text-anchor="start" font-weight="normal" fill="#000" textLength="30.2" lengthAdjust="spacingAndGlyphs">0.075</text>
<line x1="656.8" y1="176.3" x2="660.3" y2="176.3" stroke="#000" stroke-width="0.9"/>
<text transform="translate(663.0,180.2)" font-size="10.9" text-anchor="start" font-weight="normal" fill="#000" textLength="30.2" lengthAdjust="spacingAndGlyphs">0.100</text>
<line x1="656.8" y1="154.7" x2="660.3" y2="154.7" stroke="#000" stroke-width="0.9"/>
<text transform="translate(663.0,158.6)" font-size="10.9" text-anchor="start" font-weight="normal" fill="#000" textLength="30.2" lengthAdjust="spacingAndGlyphs">0.125</text>
<line x1="656.8" y1="133.0" x2="660.3" y2="133.0" stroke="#000" stroke-width="0.9"/>
<text transform="translate(663.0,136.9)" font-size="10.9" text-anchor="start" font-weight="normal" fill="#000" textLength="30.2" lengthAdjust="spacingAndGlyphs">0.150</text>
<text transform="translate(706.0,198.0) rotate(-90)" font-size="10.9" text-anchor="middle" font-weight="normal" fill="#000" textLength="87.0" lengthAdjust="spacingAndGlyphs">Error on dv/v(%)</text>
<g clip-path="url(#cb)">
<rect x="563.8" y="364.6" width="56.2" height="151.0" fill="#f6e7e4"/>
<polyline points="49.1,436.7 59.5,437.3 69.9,437.7 80.2,437.3 90.6,435.8 101.0,436.3 111.4,437.3 121.8,436.1 132.1,438.3 142.5,437.1 152.9,438.1 163.3,437.1 173.7,437.1 184.0,437.3 194.4,437.3 204.8,433.7 215.2,436.0 225.6,436.5 235.9,436.5 246.3,436.5 256.7,436.5 267.1,436.5 277.5,436.5 287.8,437.8 298.2,437.8 308.6,437.8 319.0,437.8 329.4,436.8 339.7,436.8 350.1,436.8 360.5,436.8 370.9,436.8 381.3,436.8 391.6,436.8 402.0,436.8 412.4,436.8 422.8,436.8 433.2,436.8 443.5,436.8 453.9,436.8 464.3,436.8 474.7,436.8 485.1,436.8 495.4,438.7 505.8,443.4 516.2,451.4 526.6,455.9 537.0,458.7 547.3,468.0 557.7,493.0 568.1,505.3 578.5,506.1 588.9,510.4 599.2,507.4 609.6,509.2 620.0,506.1" fill="none" stroke="#0000ff" stroke-width="1.4" stroke-linejoin="round"/>
<polygon points="49.10,433.90 49.73,435.83 51.76,435.83 50.12,437.03 50.75,438.97 49.10,437.77 47.45,438.97 48.08,437.03 46.44,435.83 48.47,435.83" fill="#0000ff" stroke="#0000ff" stroke-width="0.75" stroke-linejoin="miter"/>
<polygon points="59.48,434.50 60.11,436.43 62.14,436.43 60.50,437.63 61.13,439.57 59.48,438.37 57.83,439.57 58.46,437.63 56.82,436.43 58.85,436.43" fill="#0000ff" stroke="#0000ff" stroke-width="0.75" stroke-linejoin="miter"/>
<polygon points="69.86,434.90 70.49,436.83 72.52,436.83 70.88,438.03 71.51,439.97 69.86,438.77 68.21,439.97 68.84,438.03 67.20,436.83 69.23,436.83" fill="#0000ff" stroke="#0000ff" stroke-width="0.75" stroke-linejoin="miter"/>
<polygon points="80.24,434.50 80.87,436.43 82.90,436.43 81.26,437.63 81.89,439.57 80.24,438.37 78.59,439.57 79.22,437.63 77.58,436.43 79.61,436.43" fill="#0000ff" stroke="#0000ff" stroke-width="0.75" stroke-linejoin="miter"/>
<polygon points="90.62,433.00 91.25,434.93 93.28,434.93 91.64,436.13 92.27,438.07 90.62,436.87 88.97,438.07 89.60,436.13 87.96,434.93 89.99,434.93" fill="#0000ff" stroke="#0000ff" stroke-width="0.75" stroke-linejoin="miter"/>
<polygon points="101.00,433.50 101.63,435.43 103.66,435.43 102.02,436.63 102.65,438.57 101.00,437.37 99.35,438.57 99.98,436.63 98.34,435.43 100.37,435.43" fill="#0000ff" stroke="#0000ff" stroke-width="0.75" stroke-linejoin="miter"/>
<polygon points="111.38,434.50 112.01,436.43 114.04,436.43 112.40,437.63 113.03,439.57 111.38,438.37 109.73,439.57 110.36,437.63 108.72,436.43 110.75,436.43" fill="#0000ff" stroke="#0000ff" stroke-width="0.75" stroke-linejoin="miter"/>
<polygon points="121.76,433.30 122.39,435.23 124.42,435.23 122.78,436.43 123.41,438.37 121.76,437.17 120.11,438.37 120.74,436.43 119.10,435.23 121.13,435.23" fill="#0000ff" stroke="#0000ff" stroke-width="0.75" stroke-linejoin="miter"/>
<polygon points="132.14,435.50 132.77,437.43 134.80,437.43 133.16,438.63 133.79,440.57 132.14,439.37 130.49,440.57 131.12,438.63 129.48,437.43 131.51,437.43" fill="#0000ff" stroke="#0000ff" stroke-width="0.75" stroke-linejoin="miter"/>
<polygon points="142.52,434.30 143.15,436.23 145.18,436.23 143.54,437.43 144.17,439.37 142.52,438.17 140.87,439.37 141.50,437.43 139.86,436.23 141.89,436.23" fill="#0000ff" stroke="#0000ff" stroke-width="0.75" stroke-linejoin="miter"/>
<polygon points="152.90,435.30 153.53,437.23 155.56,437.23 153.92,438.43 154.55,440.37 152.90,439.17 151.25,440.37 151.88,438.43 150.24,437.23 152.27,437.23" fill="#0000ff" stroke="#0000ff" stroke-width="0.75" stroke-linejoin="miter"/>
<polygon points="163.28,434.30 163.91,436.23 165.94,436.23 164.30,437.43 164.93,439.37 163.28,438.17 161.63,439.37 162.26,437.43 160.62,436.23 162.65,436.23" fill="#0000ff" stroke="#0000ff" stroke-width="0.75" stroke-linejoin="miter"/>
<polygon points="173.66,434.30 174.29,436.23 176.32,436.23 174.68,437.43 175.31,439.37 173.66,438.17 172.01,439.37 172.64,437.43 171.00,436.23 173.03,436.23" fill="#0000ff" stroke="#0000ff" stroke-width="0.75" stroke-linejoin="miter"/>
<polygon points="184.04,434.50 184.67,436.43 186.70,436.43 185.06,437.63 185.69,439.57 184.04,438.37 182.39,439.57 183.02,437.63 181.38,436.43 183.41,436.43" fill="#0000ff" stroke="#0000ff" stroke-width="0.75" stroke-linejoin="miter"/>
<polygon points="194.42,434.50 195.05,436.43 197.08,436.43 195.44,437.63 196.07,439.57 194.42,438.37 192.77,439.57 193.40,437.63 191.76,436.43 193.79,436.43" fill="#0000ff" stroke="#0000ff" stroke-width="0.75" stroke-linejoin="miter"/>
<polygon points="204.80,430.90 205.43,432.83 207.46,432.83 205.82,434.03 206.45,435.97 204.80,434.77 203.15,435.97 203.78,434.03 202.14,432.83 204.17,432.83" fill="#0000ff" stroke="#0000ff" stroke-width="0.75" stroke-linejoin="miter"/>
<polygon points="215.18,433.20 215.81,435.13 217.84,435.13 216.20,436.33 216.83,438.27 215.18,437.07 213.53,438.27 214.16,436.33 212.52,435.13 214.55,435.13" fill="#0000ff" stroke="#0000ff" stroke-width="0.75" stroke-linejoin="miter"/>
<polygon points="225.56,433.70 226.19,435.63 228.22,435.63 226.58,436.83 227.21,438.77 225.56,437.57 223.91,438.77 224.54,436.83 222.90,435.63 224.93,435.63" fill="#0000ff" stroke="#0000ff" stroke-width="0.75" stroke-linejoin="miter"/>
<polygon points="235.94,433.70 236.57,435.63 238.60,435.63 236.96,436.83 237.59,438.77 235.94,437.57 234.29,438.77 234.92,436.83 233.28,435.63 235.31,435.63" fill="#0000ff" stroke="#0000ff" stroke-width="0.75" stroke-linejoin="miter"/>
<polygon points="246.32,433.70 246.95,435.63 248.98,435.63 247.34,436.83 247.97,438.77 246.32,437.57 244.67,438.77 245.30,436.83 243.66,435.63 245.69,435.63" fill="#0000ff" stroke="#0000ff" stroke-width="0.75" stroke-linejoin="miter"/>
<polygon points="256.70,433.70 257.33,435.63 259.36,435.63 257.72,436.83 258.35,438.77 256.70,437.57 255.05,438.77 255.68,436.83 254.04,435.63 256.07,435.63" fill="#0000ff" stroke="#0000ff" stroke-width="0.75" stroke-linejoin="miter"/>
<polygon points="267.08,433.70 267.71,435.63 269.74,435.63 268.10,436.83 268.73,438.77 267.08,437.57 265.43,438.77 266.06,436.83 264.42,435.63 266.45,435.63" fill="#0000ff" stroke="#0000ff" stroke-width="0.75" stroke-linejoin="miter"/>
<polygon points="277.46,433.70 278.09,435.63 280.12,435.63 278.48,436.83 279.11,438.77 277.46,437.57 275.81,438.77 276.44,436.83 274.80,435.63 276.83,435.63" fill="#0000ff" stroke="#0000ff" stroke-width="0.75" stroke-linejoin="miter"/>
<polygon points="287.84,435.00 288.47,436.93 290.50,436.93 288.86,438.13 289.49,440.07 287.84,438.87 286.19,440.07 286.82,438.13 285.18,436.93 287.21,436.93" fill="#0000ff" stroke="#0000ff" stroke-width="0.75" stroke-linejoin="miter"/>
<polygon points="298.22,435.00 298.85,436.93 300.88,436.93 299.24,438.13 299.87,440.07 298.22,438.87 296.57,440.07 297.20,438.13 295.56,436.93 297.59,436.93" fill="#0000ff" stroke="#0000ff" stroke-width="0.75" stroke-linejoin="miter"/>
<polygon points="308.60,435.00 309.23,436.93 311.26,436.93 309.62,438.13 310.25,440.07 308.60,438.87 306.95,440.07 307.58,438.13 305.94,436.93 307.97,436.93" fill="#0000ff" stroke="#0000ff" stroke-width="0.75" stroke-linejoin="miter"/>
<polygon points="318.98,435.00 319.61,436.93 321.64,436.93 320.00,438.13 320.63,440.07 318.98,438.87 317.33,440.07 317.96,438.13 316.32,436.93 318.35,436.93" fill="#0000ff" stroke="#0000ff" stroke-width="0.75" stroke-linejoin="miter"/>
<polygon points="329.36,434.00 329.99,435.93 332.02,435.93 330.38,437.13 331.01,439.07 329.36,437.87 327.71,439.07 328.34,437.13 326.70,435.93 328.73,435.93" fill="#0000ff" stroke="#0000ff" stroke-width="0.75" stroke-linejoin="miter"/>
<polygon points="339.74,434.00 340.37,435.93 342.40,435.93 340.76,437.13 341.39,439.07 339.74,437.87 338.09,439.07 338.72,437.13 337.08,435.93 339.11,435.93" fill="#0000ff" stroke="#0000ff" stroke-width="0.75" stroke-linejoin="miter"/>
<polygon points="350.12,434.00 350.75,435.93 352.78,435.93 351.14,437.13 351.77,439.07 350.12,437.87 348.47,439.07 349.10,437.13 347.46,435.93 349.49,435.93" fill="#0000ff" stroke="#0000ff" stroke-width="0.75" stroke-linejoin="miter"/>
<polygon points="360.50,434.00 361.13,435.93 363.16,435.93 361.52,437.13 362.15,439.07 360.50,437.87 358.85,439.07 359.48,437.13 357.84,435.93 359.87,435.93" fill="#0000ff" stroke="#0000ff" stroke-width="0.75" stroke-linejoin="miter"/>
<polygon points="370.88,434.00 371.51,435.93 373.54,435.93 371.90,437.13 372.53,439.07 370.88,437.87 369.23,439.07 369.86,437.13 368.22,435.93 370.25,435.93" fill="#0000ff" stroke="#0000ff" stroke-width="0.75" stroke-linejoin="miter"/>
<polygon points="381.26,434.00 381.89,435.93 383.92,435.93 382.28,437.13 382.91,439.07 381.26,437.87 379.61,439.07 380.24,437.13 378.60,435.93 380.63,435.93" fill="#0000ff" stroke="#0000ff" stroke-width="0.75" stroke-linejoin="miter"/>
<polygon points="391.64,434.00 392.27,435.93 394.30,435.93 392.66,437.13 393.29,439.07 391.64,437.87 389.99,439.07 390.62,437.13 388.98,435.93 391.01,435.93" fill="#0000ff" stroke="#0000ff" stroke-width="0.75" stroke-linejoin="miter"/>
<polygon points="402.02,434.00 402.65,435.93 404.68,435.93 403.04,437.13 403.67,439.07 402.02,437.87 400.37,439.07 401.00,437.13 399.36,435.93 401.39,435.93" fill="#0000ff" stroke="#0000ff" stroke-width="0.75" stroke-linejoin="miter"/>
<polygon points="412.40,434.00 413.03,435.93 415.06,435.93 413.42,437.13 414.05,439.07 412.40,437.87 410.75,439.07 411.38,437.13 409.74,435.93 411.77,435.93" fill="#0000ff" stroke="#0000ff" stroke-width="0.75" stroke-linejoin="miter"/>
<polygon points="422.78,434.00 423.41,435.93 425.44,435.93 423.80,437.13 424.43,439.07 422.78,437.87 421.13,439.07 421.76,437.13 420.12,435.93 422.15,435.93" fill="#0000ff" stroke="#0000ff" stroke-width="0.75" stroke-linejoin="miter"/>
<polygon points="433.16,434.00 433.79,435.93 435.82,435.93 434.18,437.13 434.81,439.07 433.16,437.87 431.51,439.07 432.14,437.13 430.50,435.93 432.53,435.93" fill="#0000ff" stroke="#0000ff" stroke-width="0.75" stroke-linejoin="miter"/>
<polygon points="443.54,434.00 444.17,435.93 446.20,435.93 444.56,437.13 445.19,439.07 443.54,437.87 441.89,439.07 442.52,437.13 440.88,435.93 442.91,435.93" fill="#0000ff" stroke="#0000ff" stroke-width="0.75" stroke-linejoin="miter"/>
<polygon points="453.92,434.00 454.55,435.93 456.58,435.93 454.94,437.13 455.57,439.07 453.92,437.87 452.27,439.07 452.90,437.13 451.26,435.93 453.29,435.93" fill="#0000ff" stroke="#0000ff" stroke-width="0.75" stroke-linejoin="miter"/>
<polygon points="464.30,434.00 464.93,435.93 466.96,435.93 465.32,437.13 465.95,439.07 464.30,437.87 462.65,439.07 463.28,437.13 461.64,435.93 463.67,435.93" fill="#0000ff" stroke="#0000ff" stroke-width="0.75" stroke-linejoin="miter"/>
<polygon points="474.68,434.00 475.31,435.93 477.34,435.93 475.70,437.13 476.33,439.07 474.68,437.87 473.03,439.07 473.66,437.13 472.02,435.93 474.05,435.93" fill="#0000ff" stroke="#0000ff" stroke-width="0.75" stroke-linejoin="miter"/>
<polygon points="485.06,434.00 485.69,435.93 487.72,435.93 486.08,437.13 486.71,439.07 485.06,437.87 483.41,439.07 484.04,437.13 482.40,435.93 484.43,435.93" fill="#0000ff" stroke="#0000ff" stroke-width="0.75" stroke-linejoin="miter"/>
<polygon points="495.44,435.90 496.07,437.83 498.10,437.83 496.46,439.03 497.09,440.97 495.44,439.77 493.79,440.97 494.42,439.03 492.78,437.83 494.81,437.83" fill="#0000ff" stroke="#0000ff" stroke-width="0.75" stroke-linejoin="miter"/>
<polygon points="505.82,440.60 506.45,442.53 508.48,442.53 506.84,443.73 507.47,445.67 505.82,444.47 504.17,445.67 504.80,443.73 503.16,442.53 505.19,442.53" fill="#0000ff" stroke="#0000ff" stroke-width="0.75" stroke-linejoin="miter"/>
<polygon points="516.20,448.60 516.83,450.53 518.86,450.53 517.22,451.73 517.85,453.67 516.20,452.47 514.55,453.67 515.18,451.73 513.54,450.53 515.57,450.53" fill="#0000ff" stroke="#0000ff" stroke-width="0.75" stroke-linejoin="miter"/>
<polygon points="526.58,453.10 527.21,455.03 529.24,455.03 527.60,456.23 528.23,458.17 526.58,456.97 524.93,458.17 525.56,456.23 523.92,455.03 525.95,455.03" fill="#0000ff" stroke="#0000ff" stroke-width="0.75" stroke-linejoin="miter"/>
<polygon points="536.96,455.90 537.59,457.83 539.62,457.83 537.98,459.03 538.61,460.97 536.96,459.77 535.31,460.97 535.94,459.03 534.30,457.83 536.33,457.83" fill="#0000ff" stroke="#0000ff" stroke-width="0.75" stroke-linejoin="miter"/>
<polygon points="547.34,465.20 547.97,467.13 550.00,467.13 548.36,468.33 548.99,470.27 547.34,469.07 545.69,470.27 546.32,468.33 544.68,467.13 546.71,467.13" fill="#0000ff" stroke="#0000ff" stroke-width="0.75" stroke-linejoin="miter"/>
<polygon points="557.72,490.20 558.35,492.13 560.38,492.13 558.74,493.33 559.37,495.27 557.72,494.07 556.07,495.27 556.70,493.33 555.06,492.13 557.09,492.13" fill="#0000ff" stroke="#0000ff" stroke-width="0.75" stroke-linejoin="miter"/>
<polygon points="568.10,502.50 568.73,504.43 570.76,504.43 569.12,505.63 569.75,507.57 568.10,506.37 566.45,507.57 567.08,505.63 565.44,504.43 567.47,504.43" fill="#0000ff" stroke="#0000ff" stroke-width="0.75" stroke-linejoin="miter"/>
<polygon points="578.48,503.30 579.11,505.23 581.14,505.23 579.50,506.43 580.13,508.37 578.48,507.17 576.83,508.37 577.46,506.43 575.82,505.23 577.85,505.23" fill="#0000ff" stroke="#0000ff" stroke-width="0.75" stroke-linejoin="miter"/>
<polygon points="588.86,507.60 589.49,509.53 591.52,509.53 589.88,510.73 590.51,512.67 588.86,511.47 587.21,512.67 587.84,510.73 586.20,509.53 588.23,509.53" fill="#0000ff" stroke="#0000ff" stroke-width="0.75" stroke-linejoin="miter"/>
<polygon points="599.24,504.60 599.87,506.53 601.90,506.53 600.26,507.73 600.89,509.67 599.24,508.47 597.59,509.67 598.22,507.73 596.58,506.53 598.61,506.53" fill="#0000ff" stroke="#0000ff" stroke-width="0.75" stroke-linejoin="miter"/>
<polygon points="609.62,506.40 610.25,508.33 612.28,508.33 610.64,509.53 611.27,511.47 609.62,510.27 607.97,511.47 608.60,509.53 606.96,508.33 608.99,508.33" fill="#0000ff" stroke="#0000ff" stroke-width="0.75" stroke-linejoin="miter"/>
<polygon points="620.00,503.30 620.63,505.23 622.66,505.23 621.02,506.43 621.65,508.37 620.00,507.17 618.35,508.37 618.98,506.43 617.34,505.23 619.37,505.23" fill="#0000ff" stroke="#0000ff" stroke-width="0.75" stroke-linejoin="miter"/>
<polyline points="49.1,439.1 59.5,438.7 69.9,439.1 80.2,437.9 90.6,438.7 101.0,438.7 111.4,440.7 121.8,439.1 132.1,440.7 142.5,439.1 152.9,439.1 163.3,438.7 173.7,438.7 184.0,438.8 194.4,438.8 204.8,438.8 215.2,438.8 225.6,438.8 235.9,438.8 246.3,438.8 256.7,438.8 267.1,438.8 277.5,438.8 287.8,438.8 298.2,438.8 308.6,438.8 319.0,438.8 329.4,438.8 339.7,438.8 350.1,438.8 360.5,438.8 370.9,438.8 381.3,438.8 391.6,438.8 402.0,438.8 412.4,438.8 422.8,438.8 433.2,438.8 443.5,438.8 453.9,438.8 464.3,438.8 474.7,438.8 485.1,438.8 495.4,438.0 505.8,436.9 516.2,436.4 526.6,435.9 537.0,435.9 547.3,435.9 557.7,449.8 568.1,455.9 578.5,459.8 588.9,459.8 599.2,458.0 609.6,458.0 620.0,458.0" fill="none" stroke="#ff9d0a" stroke-width="1.4" stroke-linejoin="round"/>
<polygon points="49.10,436.30 49.73,438.23 51.76,438.23 50.12,439.43 50.75,441.37 49.10,440.17 47.45,441.37 48.08,439.43 46.44,438.23 48.47,438.23" fill="#ff9d0a" stroke="#ff9d0a" stroke-width="0.75" stroke-linejoin="miter"/>
<polygon points="59.48,435.90 60.11,437.83 62.14,437.83 60.50,439.03 61.13,440.97 59.48,439.77 57.83,440.97 58.46,439.03 56.82,437.83 58.85,437.83" fill="#ff9d0a" stroke="#ff9d0a" stroke-width="0.75" stroke-linejoin="miter"/>
<polygon points="69.86,436.30 70.49,438.23 72.52,438.23 70.88,439.43 71.51,441.37 69.86,440.17 68.21,441.37 68.84,439.43 67.20,438.23 69.23,438.23" fill="#ff9d0a" stroke="#ff9d0a" stroke-width="0.75" stroke-linejoin="miter"/>
<polygon points="80.24,435.10 80.87,437.03 82.90,437.03 81.26,438.23 81.89,440.17 80.24,438.97 78.59,440.17 79.22,438.23 77.58,437.03 79.61,437.03" fill="#ff9d0a" stroke="#ff9d0a" stroke-width="0.75" stroke-linejoin="miter"/>
<polygon points="90.62,435.90 91.25,437.83 93.28,437.83 91.64,439.03 92.27,440.97 90.62,439.77 88.97,440.97 89.60,439.03 87.96,437.83 89.99,437.83" fill="#ff9d0a" stroke="#ff9d0a" stroke-width="0.75" stroke-linejoin="miter"/>
<polygon points="101.00,435.90 101.63,437.83 103.66,437.83 102.02,439.03 102.65,440.97 101.00,439.77 99.35,440.97 99.98,439.03 98.34,437.83 100.37,437.83" fill="#ff9d0a" stroke="#ff9d0a" stroke-width="0.75" stroke-linejoin="miter"/>
<polygon points="111.38,437.90 112.01,439.83 114.04,439.83 112.40,441.03 113.03,442.97 111.38,441.77 109.73,442.97 110.36,441.03 108.72,439.83 110.75,439.83" fill="#ff9d0a" stroke="#ff9d0a" stroke-width="0.75" stroke-linejoin="miter"/>
<polygon points="121.76,436.30 122.39,438.23 124.42,438.23 122.78,439.43 123.41,441.37 121.76,440.17 120.11,441.37 120.74,439.43 119.10,438.23 121.13,438.23" fill="#ff9d0a" stroke="#ff9d0a" stroke-width="0.75" stroke-linejoin="miter"/>
<polygon points="132.14,437.90 132.77,439.83 134.80,439.83 133.16,441.03 133.79,442.97 132.14,441.77 130.49,442.97 131.12,441.03 129.48,439.83 131.51,439.83" fill="#ff9d0a" stroke="#ff9d0a" stroke-width="0.75" stroke-linejoin="miter"/>
<polygon points="142.52,436.30 143.15,438.23 145.18,438.23 143.54,439.43 144.17,441.37 142.52,440.17 140.87,441.37 141.50,439.43 139.86,438.23 141.89,438.23" fill="#ff9d0a" stroke="#ff9d0a" stroke-width="0.75" stroke-linejoin="miter"/>
<polygon points="152.90,436.30 153.53,438.23 155.56,438.23 153.92,439.43 154.55,441.37 152.90,440.17 151.25,441.37 151.88,439.43 150.24,438.23 152.27,438.23" fill="#ff9d0a" stroke="#ff9d0a" stroke-width="0.75" stroke-linejoin="miter"/>
<polygon points="163.28,435.90 163.91,437.83 165.94,437.83 164.30,439.03 164.93,440.97 163.28,439.77 161.63,440.97 162.26,439.03 160.62,437.83 162.65,437.83" fill="#ff9d0a" stroke="#ff9d0a" stroke-width="0.75" stroke-linejoin="miter"/>
<polygon points="173.66,435.90 174.29,437.83 176.32,437.83 174.68,439.03 175.31,440.97 173.66,439.77 172.01,440.97 172.64,439.03 171.00,437.83 173.03,437.83" fill="#ff9d0a" stroke="#ff9d0a" stroke-width="0.75" stroke-linejoin="miter"/>
<polygon points="184.04,436.00 184.67,437.93 186.70,437.93 185.06,439.13 185.69,441.07 184.04,439.87 182.39,441.07 183.02,439.13 181.38,437.93 183.41,437.93" fill="#ff9d0a" stroke="#ff9d0a" stroke-width="0.75" stroke-linejoin="miter"/>
<polygon points="194.42,436.00 195.05,437.93 197.08,437.93 195.44,439.13 196.07,441.07 194.42,439.87 192.77,441.07 193.40,439.13 191.76,437.93 193.79,437.93" fill="#ff9d0a" stroke="#ff9d0a" stroke-width="0.75" stroke-linejoin="miter"/>
<polygon points="204.80,436.00 205.43,437.93 207.46,437.93 205.82,439.13 206.45,441.07 204.80,439.87 203.15,441.07 203.78,439.13 202.14,437.93 204.17,437.93" fill="#ff9d0a" stroke="#ff9d0a" stroke-width="0.75" stroke-linejoin="miter"/>
<polygon points="215.18,436.00 215.81,437.93 217.84,437.93 216.20,439.13 216.83,441.07 215.18,439.87 213.53,441.07 214.16,439.13 212.52,437.93 214.55,437.93" fill="#ff9d0a" stroke="#ff9d0a" stroke-width="0.75" stroke-linejoin="miter"/>
<polygon points="225.56,436.00 226.19,437.93 228.22,437.93 226.58,439.13 227.21,441.07 225.56,439.87 223.91,441.07 224.54,439.13 222.90,437.93 224.93,437.93" fill="#ff9d0a" stroke="#ff9d0a" stroke-width="0.75" stroke-linejoin="miter"/>
<polygon points="235.94,436.00 236.57,437.93 238.60,437.93 236.96,439.13 237.59,441.07 235.94,439.87 234.29,441.07 234.92,439.13 233.28,437.93 235.31,437.93" fill="#ff9d0a" stroke="#ff9d0a" stroke-width="0.75" stroke-linejoin="miter"/>
<polygon points="246.32,436.00 246.95,437.93 248.98,437.93 247.34,439.13 247.97,441.07 246.32,439.87 244.67,441.07 245.30,439.13 243.66,437.93 245.69,437.93" fill="#ff9d0a" stroke="#ff9d0a" stroke-width="0.75" stroke-linejoin="miter"/>
<polygon points="256.70,436.00 257.33,437.93 259.36,437.93 257.72,439.13 258.35,441.07 256.70,439.87 255.05,441.07 255.68,439.13 254.04,437.93 256.07,437.93" fill="#ff9d0a" stroke="#ff9d0a" stroke-width="0.75" stroke-linejoin="miter"/>
<polygon points="267.08,436.00 267.71,437.93 269.74,437.93 268.10,439.13 268.73,441.07 267.08,439.87 265.43,441.07 266.06,439.13 264.42,437.93 266.45,437.93" fill="#ff9d0a" stroke="#ff9d0a" stroke-width="0.75" stroke-linejoin="miter"/>
<polygon points="277.46,436.00 278.09,437.93 280.12,437.93 278.48,439.13 279.11,441.07 277.46,439.87 275.81,441.07 276.44,439.13 274.80,437.93 276.83,437.93" fill="#ff9d0a" stroke="#ff9d0a" stroke-width="0.75" stroke-linejoin="miter"/>
<polygon points="287.84,436.00 288.47,437.93 290.50,437.93 288.86,439.13 289.49,441.07 287.84,439.87 286.19,441.07 286.82,439.13 285.18,437.93 287.21,437.93" fill="#ff9d0a" stroke="#ff9d0a" stroke-width="0.75" stroke-linejoin="miter"/>
<polygon points="298.22,436.00 298.85,437.93 300.88,437.93 299.24,439.13 299.87,441.07 298.22,439.87 296.57,441.07 297.20,439.13 295.56,437.93 297.59,437.93" fill="#ff9d0a" stroke="#ff9d0a" stroke-width="0.75" stroke-linejoin="miter"/>
<polygon points="308.60,436.00 309.23,437.93 311.26,437.93 309.62,439.13 310.25,441.07 308.60,439.87 306.95,441.07 307.58,439.13 305.94,437.93 307.97,437.93" fill="#ff9d0a" stroke="#ff9d0a" stroke-width="0.75" stroke-linejoin="miter"/>
<polygon points="318.98,436.00 319.61,437.93 321.64,437.93 320.00,439.13 320.63,441.07 318.98,439.87 317.33,441.07 317.96,439.13 316.32,437.93 318.35,437.93" fill="#ff9d0a" stroke="#ff9d0a" stroke-width="0.75" stroke-linejoin="miter"/>
<polygon points="329.36,436.00 329.99,437.93 332.02,437.93 330.38,439.13 331.01,441.07 329.36,439.87 327.71,441.07 328.34,439.13 326.70,437.93 328.73,437.93" fill="#ff9d0a" stroke="#ff9d0a" stroke-width="0.75" stroke-linejoin="miter"/>
<polygon points="339.74,436.00 340.37,437.93 342.40,437.93 340.76,439.13 341.39,441.07 339.74,439.87 338.09,441.07 338.72,439.13 337.08,437.93 339.11,437.93" fill="#ff9d0a" stroke="#ff9d0a" stroke-width="0.75" stroke-linejoin="miter"/>
<polygon points="350.12,436.00 350.75,437.93 352.78,437.93 351.14,439.13 351.77,441.07 350.12,439.87 348.47,441.07 349.10,439.13 347.46,437.93 349.49,437.93" fill="#ff9d0a" stroke="#ff9d0a" stroke-width="0.75" stroke-linejoin="miter"/>
<polygon points="360.50,436.00 361.13,437.93 363.16,437.93 361.52,439.13 362.15,441.07 360.50,439.87 358.85,441.07 359.48,439.13 357.84,437.93 359.87,437.93" fill="#ff9d0a" stroke="#ff9d0a" stroke-width="0.75" stroke-linejoin="miter"/>
<polygon points="370.88,436.00 371.51,437.93 373.54,437.93 371.90,439.13 372.53,441.07 370.88,439.87 369.23,441.07 369.86,439.13 368.22,437.93 370.25,437.93" fill="#ff9d0a" stroke="#ff9d0a" stroke-width="0.75" stroke-linejoin="miter"/>
<polygon points="381.26,436.00 381.89,437.93 383.92,437.93 382.28,439.13 382.91,441.07 381.26,439.87 379.61,441.07 380.24,439.13 378.60,437.93 380.63,437.93" fill="#ff9d0a" stroke="#ff9d0a" stroke-width="0.75" stroke-linejoin="miter"/>
<polygon points="391.64,436.00 392.27,437.93 394.30,437.93 392.66,439.13 393.29,441.07 391.64,439.87 389.99,441.07 390.62,439.13 388.98,437.93 391.01,437.93" fill="#ff9d0a" stroke="#ff9d0a" stroke-width="0.75" stroke-linejoin="miter"/>
<polygon points="402.02,436.00 402.65,437.93 404.68,437.93 403.04,439.13 403.67,441.07 402.02,439.87 400.37,441.07 401.00,439.13 399.36,437.93 401.39,437.93" fill="#ff9d0a" stroke="#ff9d0a" stroke-width="0.75" stroke-linejoin="miter"/>
<polygon points="412.40,436.00 413.03,437.93 415.06,437.93 413.42,439.13 414.05,441.07 412.40,439.87 410.75,441.07 411.38,439.13 409.74,437.93 411.77,437.93" fill="#ff9d0a" stroke="#ff9d0a" stroke-width="0.75" stroke-linejoin="miter"/>
<polygon points="422.78,436.00 423.41,437.93 425.44,437.93 423.80,439.13 424.43,441.07 422.78,439.87 421.13,441.07 421.76,439.13 420.12,437.93 422.15,437.93" fill="#ff9d0a" stroke="#ff9d0a" stroke-width="0.75" stroke-linejoin="miter"/>
<polygon points="433.16,436.00 433.79,437.93 435.82,437.93 434.18,439.13 434.81,441.07 433.16,439.87 431.51,441.07 432.14,439.13 430.50,437.93 432.53,437.93" fill="#ff9d0a" stroke="#ff9d0a" stroke-width="0.75" stroke-linejoin="miter"/>
<polygon points="443.54,436.00 444.17,437.93 446.20,437.93 444.56,439.13 445.19,441.07 443.54,439.87 441.89,441.07 442.52,439.13 440.88,437.93 442.91,437.93" fill="#ff9d0a" stroke="#ff9d0a" stroke-width="0.75" stroke-linejoin="miter"/>
<polygon points="453.92,436.00 454.55,437.93 456.58,437.93 454.94,439.13 455.57,441.07 453.92,439.87 452.27,441.07 452.90,439.13 451.26,437.93 453.29,437.93" fill="#ff9d0a" stroke="#ff9d0a" stroke-width="0.75" stroke-linejoin="miter"/>
<polygon points="464.30,436.00 464.93,437.93 466.96,437.93 465.32,439.13 465.95,441.07 464.30,439.87 462.65,441.07 463.28,439.13 461.64,437.93 463.67,437.93" fill="#ff9d0a" stroke="#ff9d0a" stroke-width="0.75" stroke-linejoin="miter"/>
<polygon points="474.68,436.00 475.31,437.93 477.34,437.93 475.70,439.13 476.33,441.07 474.68,439.87 473.03,441.07 473.66,439.13 472.02,437.93 474.05,437.93" fill="#ff9d0a" stroke="#ff9d0a" stroke-width="0.75" stroke-linejoin="miter"/>
<polygon points="485.06,436.00 485.69,437.93 487.72,437.93 486.08,439.13 486.71,441.07 485.06,439.87 483.41,441.07 484.04,439.13 482.40,437.93 484.43,437.93" fill="#ff9d0a" stroke="#ff9d0a" stroke-width="0.75" stroke-linejoin="miter"/>
<polygon points="495.44,435.20 496.07,437.13 498.10,437.13 496.46,438.33 497.09,440.27 495.44,439.07 493.79,440.27 494.42,438.33 492.78,437.13 494.81,437.13" fill="#ff9d0a" stroke="#ff9d0a" stroke-width="0.75" stroke-linejoin="miter"/>
<polygon points="505.82,434.10 506.45,436.03 508.48,436.03 506.84,437.23 507.47,439.17 505.82,437.97 504.17,439.17 504.80,437.23 503.16,436.03 505.19,436.03" fill="#ff9d0a" stroke="#ff9d0a" stroke-width="0.75" stroke-linejoin="miter"/>
<polygon points="516.20,433.60 516.83,435.53 518.86,435.53 517.22,436.73 517.85,438.67 516.20,437.47 514.55,438.67 515.18,436.73 513.54,435.53 515.57,435.53" fill="#ff9d0a" stroke="#ff9d0a" stroke-width="0.75" stroke-linejoin="miter"/>
<polygon points="526.58,433.10 527.21,435.03 529.24,435.03 527.60,436.23 528.23,438.17 526.58,436.97 524.93,438.17 525.56,436.23 523.92,435.03 525.95,435.03" fill="#ff9d0a" stroke="#ff9d0a" stroke-width="0.75" stroke-linejoin="miter"/>
<polygon points="536.96,433.10 537.59,435.03 539.62,435.03 537.98,436.23 538.61,438.17 536.96,436.97 535.31,438.17 535.94,436.23 534.30,435.03 536.33,435.03" fill="#ff9d0a" stroke="#ff9d0a" stroke-width="0.75" stroke-linejoin="miter"/>
<polygon points="547.34,433.10 547.97,435.03 550.00,435.03 548.36,436.23 548.99,438.17 547.34,436.97 545.69,438.17 546.32,436.23 544.68,435.03 546.71,435.03" fill="#ff9d0a" stroke="#ff9d0a" stroke-width="0.75" stroke-linejoin="miter"/>
<polygon points="557.72,447.00 558.35,448.93 560.38,448.93 558.74,450.13 559.37,452.07 557.72,450.87 556.07,452.07 556.70,450.13 555.06,448.93 557.09,448.93" fill="#ff9d0a" stroke="#ff9d0a" stroke-width="0.75" stroke-linejoin="miter"/>
<polygon points="568.10,453.10 568.73,455.03 570.76,455.03 569.12,456.23 569.75,458.17 568.10,456.97 566.45,458.17 567.08,456.23 565.44,455.03 567.47,455.03" fill="#ff9d0a" stroke="#ff9d0a" stroke-width="0.75" stroke-linejoin="miter"/>
<polygon points="578.48,457.00 579.11,458.93 581.14,458.93 579.50,460.13 580.13,462.07 578.48,460.87 576.83,462.07 577.46,460.13 575.82,458.93 577.85,458.93" fill="#ff9d0a" stroke="#ff9d0a" stroke-width="0.75" stroke-linejoin="miter"/>
<polygon points="588.86,457.00 589.49,458.93 591.52,458.93 589.88,460.13 590.51,462.07 588.86,460.87 587.21,462.07 587.84,460.13 586.20,458.93 588.23,458.93" fill="#ff9d0a" stroke="#ff9d0a" stroke-width="0.75" stroke-linejoin="miter"/>
<polygon points="599.24,455.20 599.87,457.13 601.90,457.13 600.26,458.33 600.89,460.27 599.24,459.07 597.59,460.27 598.22,458.33 596.58,457.13 598.61,457.13" fill="#ff9d0a" stroke="#ff9d0a" stroke-width="0.75" stroke-linejoin="miter"/>
<polygon points="609.62,455.20 610.25,457.13 612.28,457.13 610.64,458.33 611.27,460.27 609.62,459.07 607.97,460.27 608.60,458.33 606.96,457.13 608.99,457.13" fill="#ff9d0a" stroke="#ff9d0a" stroke-width="0.75" stroke-linejoin="miter"/>
<polygon points="620.00,455.20 620.63,457.13 622.66,457.13 621.02,458.33 621.65,460.27 620.00,459.07 618.35,460.27 618.98,458.33 617.34,457.13 619.37,457.13" fill="#ff9d0a" stroke="#ff9d0a" stroke-width="0.75" stroke-linejoin="miter"/>
<polyline points="49.1,440.4 59.5,439.2 69.9,439.9 80.2,444.2 90.6,439.2 101.0,441.7 111.4,436.6 121.8,440.4 132.1,438.7 142.5,441.7 152.9,438.7 163.3,442.5 173.7,440.9 184.0,440.4 194.4,437.8 204.8,443.6 215.2,446.7 225.6,449.2 235.9,437.2 246.3,441.0 256.7,443.6 267.1,441.5 277.5,441.0 287.8,440.5 298.2,440.0 308.6,440.5 319.0,440.0 329.4,442.8 339.7,444.1 350.1,444.3 360.5,442.8 370.9,439.0 381.3,437.2 391.6,441.5 402.0,438.0 412.4,441.8 422.8,438.5 433.2,441.0 443.5,441.8 453.9,444.1 464.3,441.0 474.7,441.0 485.1,439.0 495.4,441.0 505.8,430.0 516.2,424.0 526.6,417.8 537.0,413.0 547.3,402.0 557.7,400.3 568.1,386.8 578.5,385.0 588.9,383.0 599.2,397.7 609.6,394.4 620.0,405.1" fill="none" stroke="#000" stroke-width="1.4" stroke-linejoin="round"/>
<polygon points="49.10,437.60 49.73,439.53 51.76,439.53 50.12,440.73 50.75,442.67 49.10,441.47 47.45,442.67 48.08,440.73 46.44,439.53 48.47,439.53" fill="#000" stroke="#000" stroke-width="0.75" stroke-linejoin="miter"/>
<polygon points="59.48,436.40 60.11,438.33 62.14,438.33 60.50,439.53 61.13,441.47 59.48,440.27 57.83,441.47 58.46,439.53 56.82,438.33 58.85,438.33" fill="#000" stroke="#000" stroke-width="0.75" stroke-linejoin="miter"/>
<polygon points="69.86,437.10 70.49,439.03 72.52,439.03 70.88,440.23 71.51,442.17 69.86,440.97 68.21,442.17 68.84,440.23 67.20,439.03 69.23,439.03" fill="#000" stroke="#000" stroke-width="0.75" stroke-linejoin="miter"/>
<polygon points="80.24,441.40 80.87,443.33 82.90,443.33 81.26,444.53 81.89,446.47 80.24,445.27 78.59,446.47 79.22,444.53 77.58,443.33 79.61,443.33" fill="#000" stroke="#000" stroke-width="0.75" stroke-linejoin="miter"/>
<polygon points="90.62,436.40 91.25,438.33 93.28,438.33 91.64,439.53 92.27,441.47 90.62,440.27 88.97,441.47 89.60,439.53 87.96,438.33 89.99,438.33" fill="#000" stroke="#000" stroke-width="0.75" stroke-linejoin="miter"/>
<polygon points="101.00,438.90 101.63,440.83 103.66,440.83 102.02,442.03 102.65,443.97 101.00,442.77 99.35,443.97 99.98,442.03 98.34,440.83 100.37,440.83" fill="#000" stroke="#000" stroke-width="0.75" stroke-linejoin="miter"/>
<polygon points="111.38,433.80 112.01,435.73 114.04,435.73 112.40,436.93 113.03,438.87 111.38,437.67 109.73,438.87 110.36,436.93 108.72,435.73 110.75,435.73" fill="#000" stroke="#000" stroke-width="0.75" stroke-linejoin="miter"/>
<polygon points="121.76,437.60 122.39,439.53 124.42,439.53 122.78,440.73 123.41,442.67 121.76,441.47 120.11,442.67 120.74,440.73 119.10,439.53 121.13,439.53" fill="#000" stroke="#000" stroke-width="0.75" stroke-linejoin="miter"/>
<polygon points="132.14,435.90 132.77,437.83 134.80,437.83 133.16,439.03 133.79,440.97 132.14,439.77 130.49,440.97 131.12,439.03 129.48,437.83 131.51,437.83" fill="#000" stroke="#000" stroke-width="0.75" stroke-linejoin="miter"/>
<polygon points="142.52,438.90 143.15,440.83 145.18,440.83 143.54,442.03 144.17,443.97 142.52,442.77 140.87,443.97 141.50,442.03 139.86,440.83 141.89,440.83" fill="#000" stroke="#000" stroke-width="0.75" stroke-linejoin="miter"/>
<polygon points="152.90,435.90 153.53,437.83 155.56,437.83 153.92,439.03 154.55,440.97 152.90,439.77 151.25,440.97 151.88,439.03 150.24,437.83 152.27,437.83" fill="#000" stroke="#000" stroke-width="0.75" stroke-linejoin="miter"/>
<polygon points="163.28,439.70 163.91,441.63 165.94,441.63 164.30,442.83 164.93,444.77 163.28,443.57 161.63,444.77 162.26,442.83 160.62,441.63 162.65,441.63" fill="#000" stroke="#000" stroke-width="0.75" stroke-linejoin="miter"/>
<polygon points="173.66,438.10 174.29,440.03 176.32,440.03 174.68,441.23 175.31,443.17 173.66,441.97 172.01,443.17 172.64,441.23 171.00,440.03 173.03,440.03" fill="#000" stroke="#000" stroke-width="0.75" stroke-linejoin="miter"/>
<polygon points="184.04,437.60 184.67,439.53 186.70,439.53 185.06,440.73 185.69,442.67 184.04,441.47 182.39,442.67 183.02,440.73 181.38,439.53 183.41,439.53" fill="#000" stroke="#000" stroke-width="0.75" stroke-linejoin="miter"/>
<polygon points="194.42,435.00 195.05,436.93 197.08,436.93 195.44,438.13 196.07,440.07 194.42,438.87 192.77,440.07 193.40,438.13 191.76,436.93 193.79,436.93" fill="#000" stroke="#000" stroke-width="0.75" stroke-linejoin="miter"/>
<polygon points="204.80,440.80 205.43,442.73 207.46,442.73 205.82,443.93 206.45,445.87 204.80,444.67 203.15,445.87 203.78,443.93 202.14,442.73 204.17,442.73" fill="#000" stroke="#000" stroke-width="0.75" stroke-linejoin="miter"/>
<polygon points="215.18,443.90 215.81,445.83 217.84,445.83 216.20,447.03 216.83,448.97 215.18,447.77 213.53,448.97 214.16,447.03 212.52,445.83 214.55,445.83" fill="#000" stroke="#000" stroke-width="0.75" stroke-linejoin="miter"/>
<polygon points="225.56,446.40 226.19,448.33 228.22,448.33 226.58,449.53 227.21,451.47 225.56,450.27 223.91,451.47 224.54,449.53 222.90,448.33 224.93,448.33" fill="#000" stroke="#000" stroke-width="0.75" stroke-linejoin="miter"/>
<polygon points="235.94,434.40 236.57,436.33 238.60,436.33 236.96,437.53 237.59,439.47 235.94,438.27 234.29,439.47 234.92,437.53 233.28,436.33 235.31,436.33" fill="#000" stroke="#000" stroke-width="0.75" stroke-linejoin="miter"/>
<polygon points="246.32,438.20 246.95,440.13 248.98,440.13 247.34,441.33 247.97,443.27 246.32,442.07 244.67,443.27 245.30,441.33 243.66,440.13 245.69,440.13" fill="#000" stroke="#000" stroke-width="0.75" stroke-linejoin="miter"/>
<polygon points="256.70,440.80 257.33,442.73 259.36,442.73 257.72,443.93 258.35,445.87 256.70,444.67 255.05,445.87 255.68,443.93 254.04,442.73 256.07,442.73" fill="#000" stroke="#000" stroke-width="0.75" stroke-linejoin="miter"/>
<polygon points="267.08,438.70 267.71,440.63 269.74,440.63 268.10,441.83 268.73,443.77 267.08,442.57 265.43,443.77 266.06,441.83 264.42,440.63 266.45,440.63" fill="#000" stroke="#000" stroke-width="0.75" stroke-linejoin="miter"/>
<polygon points="277.46,438.20 278.09,440.13 280.12,440.13 278.48,441.33 279.11,443.27 277.46,442.07 275.81,443.27 276.44,441.33 274.80,440.13 276.83,440.13" fill="#000" stroke="#000" stroke-width="0.75" stroke-linejoin="miter"/>
<polygon points="287.84,437.70 288.47,439.63 290.50,439.63 288.86,440.83 289.49,442.77 287.84,441.57 286.19,442.77 286.82,440.83 285.18,439.63 287.21,439.63" fill="#000" stroke="#000" stroke-width="0.75" stroke-linejoin="miter"/>
<polygon points="298.22,437.20 298.85,439.13 300.88,439.13 299.24,440.33 299.87,442.27 298.22,441.07 296.57,442.27 297.20,440.33 295.56,439.13 297.59,439.13" fill="#000" stroke="#000" stroke-width="0.75" stroke-linejoin="miter"/>
<polygon points="308.60,437.70 309.23,439.63 311.26,439.63 309.62,440.83 310.25,442.77 308.60,441.57 306.95,442.77 307.58,440.83 305.94,439.63 307.97,439.63" fill="#000" stroke="#000" stroke-width="0.75" stroke-linejoin="miter"/>
<polygon points="318.98,437.20 319.61,439.13 321.64,439.13 320.00,440.33 320.63,442.27 318.98,441.07 317.33,442.27 317.96,440.33 316.32,439.13 318.35,439.13" fill="#000" stroke="#000" stroke-width="0.75" stroke-linejoin="miter"/>
<polygon points="329.36,440.00 329.99,441.93 332.02,441.93 330.38,443.13 331.01,445.07 329.36,443.87 327.71,445.07 328.34,443.13 326.70,441.93 328.73,441.93" fill="#000" stroke="#000" stroke-width="0.75" stroke-linejoin="miter"/>
<polygon points="339.74,441.30 340.37,443.23 342.40,443.23 340.76,444.43 341.39,446.37 339.74,445.17 338.09,446.37 338.72,444.43 337.08,443.23 339.11,443.23" fill="#000" stroke="#000" stroke-width="0.75" stroke-linejoin="miter"/>
<polygon points="350.12,441.50 350.75,443.43 352.78,443.43 351.14,444.63 351.77,446.57 350.12,445.37 348.47,446.57 349.10,444.63 347.46,443.43 349.49,443.43" fill="#000" stroke="#000" stroke-width="0.75" stroke-linejoin="miter"/>
<polygon points="360.50,440.00 361.13,441.93 363.16,441.93 361.52,443.13 362.15,445.07 360.50,443.87 358.85,445.07 359.48,443.13 357.84,441.93 359.87,441.93" fill="#000" stroke="#000" stroke-width="0.75" stroke-linejoin="miter"/>
<polygon points="370.88,436.20 371.51,438.13 373.54,438.13 371.90,439.33 372.53,441.27 370.88,440.07 369.23,441.27 369.86,439.33 368.22,438.13 370.25,438.13" fill="#000" stroke="#000" stroke-width="0.75" stroke-linejoin="miter"/>
<polygon points="381.26,434.40 381.89,436.33 383.92,436.33 382.28,437.53 382.91,439.47 381.26,438.27 379.61,439.47 380.24,437.53 378.60,436.33 380.63,436.33" fill="#000" stroke="#000" stroke-width="0.75" stroke-linejoin="miter"/>
<polygon points="391.64,438.70 392.27,440.63 394.30,440.63 392.66,441.83 393.29,443.77 391.64,442.57 389.99,443.77 390.62,441.83 388.98,440.63 391.01,440.63" fill="#000" stroke="#000" stroke-width="0.75" stroke-linejoin="miter"/>
<polygon points="402.02,435.20 402.65,437.13 404.68,437.13 403.04,438.33 403.67,440.27 402.02,439.07 400.37,440.27 401.00,438.33 399.36,437.13 401.39,437.13" fill="#000" stroke="#000" stroke-width="0.75" stroke-linejoin="miter"/>
<polygon points="412.40,439.00 413.03,440.93 415.06,440.93 413.42,442.13 414.05,444.07 412.40,442.87 410.75,444.07 411.38,442.13 409.74,440.93 411.77,440.93" fill="#000" stroke="#000" stroke-width="0.75" stroke-linejoin="miter"/>
<polygon points="422.78,435.70 423.41,437.63 425.44,437.63 423.80,438.83 424.43,440.77 422.78,439.57 421.13,440.77 421.76,438.83 420.12,437.63 422.15,437.63" fill="#000" stroke="#000" stroke-width="0.75" stroke-linejoin="miter"/>
<polygon points="433.16,438.20 433.79,440.13 435.82,440.13 434.18,441.33 434.81,443.27 433.16,442.07 431.51,443.27 432.14,441.33 430.50,440.13 432.53,440.13" fill="#000" stroke="#000" stroke-width="0.75" stroke-linejoin="miter"/>
<polygon points="443.54,439.00 444.17,440.93 446.20,440.93 444.56,442.13 445.19,444.07 443.54,442.87 441.89,444.07 442.52,442.13 440.88,440.93 442.91,440.93" fill="#000" stroke="#000" stroke-width="0.75" stroke-linejoin="miter"/>
<polygon points="453.92,441.30 454.55,443.23 456.58,443.23 454.94,444.43 455.57,446.37 453.92,445.17 452.27,446.37 452.90,444.43 451.26,443.23 453.29,443.23" fill="#000" stroke="#000" stroke-width="0.75" stroke-linejoin="miter"/>
<polygon points="464.30,438.20 464.93,440.13 466.96,440.13 465.32,441.33 465.95,443.27 464.30,442.07 462.65,443.27 463.28,441.33 461.64,440.13 463.67,440.13" fill="#000" stroke="#000" stroke-width="0.75" stroke-linejoin="miter"/>
<polygon points="474.68,438.20 475.31,440.13 477.34,440.13 475.70,441.33 476.33,443.27 474.68,442.07 473.03,443.27 473.66,441.33 472.02,440.13 474.05,440.13" fill="#000" stroke="#000" stroke-width="0.75" stroke-linejoin="miter"/>
<polygon points="485.06,436.20 485.69,438.13 487.72,438.13 486.08,439.33 486.71,441.27 485.06,440.07 483.41,441.27 484.04,439.33 482.40,438.13 484.43,438.13" fill="#000" stroke="#000" stroke-width="0.75" stroke-linejoin="miter"/>
<polygon points="495.44,438.20 496.07,440.13 498.10,440.13 496.46,441.33 497.09,443.27 495.44,442.07 493.79,443.27 494.42,441.33 492.78,440.13 494.81,440.13" fill="#000" stroke="#000" stroke-width="0.75" stroke-linejoin="miter"/>
<polygon points="505.82,427.20 506.45,429.13 508.48,429.13 506.84,430.33 507.47,432.27 505.82,431.07 504.17,432.27 504.80,430.33 503.16,429.13 505.19,429.13" fill="#000" stroke="#000" stroke-width="0.75" stroke-linejoin="miter"/>
<polygon points="516.20,421.20 516.83,423.13 518.86,423.13 517.22,424.33 517.85,426.27 516.20,425.07 514.55,426.27 515.18,424.33 513.54,423.13 515.57,423.13" fill="#000" stroke="#000" stroke-width="0.75" stroke-linejoin="miter"/>
<polygon points="526.58,415.00 527.21,416.93 529.24,416.93 527.60,418.13 528.23,420.07 526.58,418.87 524.93,420.07 525.56,418.13 523.92,416.93 525.95,416.93" fill="#000" stroke="#000" stroke-width="0.75" stroke-linejoin="miter"/>
<polygon points="536.96,410.20 537.59,412.13 539.62,412.13 537.98,413.33 538.61,415.27 536.96,414.07 535.31,415.27 535.94,413.33 534.30,412.13 536.33,412.13" fill="#000" stroke="#000" stroke-width="0.75" stroke-linejoin="miter"/>
<polygon points="547.34,399.20 547.97,401.13 550.00,401.13 548.36,402.33 548.99,404.27 547.34,403.07 545.69,404.27 546.32,402.33 544.68,401.13 546.71,401.13" fill="#000" stroke="#000" stroke-width="0.75" stroke-linejoin="miter"/>
<polygon points="557.72,397.50 558.35,399.43 560.38,399.43 558.74,400.63 559.37,402.57 557.72,401.37 556.07,402.57 556.70,400.63 555.06,399.43 557.09,399.43" fill="#000" stroke="#000" stroke-width="0.75" stroke-linejoin="miter"/>
<polygon points="568.10,384.00 568.73,385.93 570.76,385.93 569.12,387.13 569.75,389.07 568.10,387.87 566.45,389.07 567.08,387.13 565.44,385.93 567.47,385.93" fill="#000" stroke="#000" stroke-width="0.75" stroke-linejoin="miter"/>
<polygon points="578.48,382.20 579.11,384.13 581.14,384.13 579.50,385.33 580.13,387.27 578.48,386.07 576.83,387.27 577.46,385.33 575.82,384.13 577.85,384.13" fill="#000" stroke="#000" stroke-width="0.75" stroke-linejoin="miter"/>
<polygon points="588.86,380.20 589.49,382.13 591.52,382.13 589.88,383.33 590.51,385.27 588.86,384.07 587.21,385.27 587.84,383.33 586.20,382.13 588.23,382.13" fill="#000" stroke="#000" stroke-width="0.75" stroke-linejoin="miter"/>
<polygon points="599.24,394.90 599.87,396.83 601.90,396.83 600.26,398.03 600.89,399.97 599.24,398.77 597.59,399.97 598.22,398.03 596.58,396.83 598.61,396.83" fill="#000" stroke="#000" stroke-width="0.75" stroke-linejoin="miter"/>
<polygon points="609.62,391.60 610.25,393.53 612.28,393.53 610.64,394.73 611.27,396.67 609.62,395.47 607.97,396.67 608.60,394.73 606.96,393.53 608.99,393.53" fill="#000" stroke="#000" stroke-width="0.75" stroke-linejoin="miter"/>
<polygon points="620.00,402.30 620.63,404.23 622.66,404.23 621.02,405.43 621.65,407.37 620.00,406.17 618.35,407.37 618.98,405.43 617.34,404.23 619.37,404.23" fill="#000" stroke="#000" stroke-width="0.75" stroke-linejoin="miter"/>
<rect x="313.8" y="513.8" width="10.4" height="1.8" fill="#b8b8b8" fill-opacity="0.5" stroke="#777" stroke-opacity="0.6" stroke-width="0.7"/>
<rect x="469.5" y="511.7" width="10.4" height="3.9" fill="#b8b8b8" fill-opacity="0.5" stroke="#777" stroke-opacity="0.6" stroke-width="0.7"/>
<rect x="479.9" y="422.5" width="10.4" height="93.1" fill="#b8b8b8" fill-opacity="0.5" stroke="#777" stroke-opacity="0.6" stroke-width="0.7"/>
<rect x="490.3" y="384.6" width="10.4" height="131.0" fill="#b8b8b8" fill-opacity="0.5" stroke="#777" stroke-opacity="0.6" stroke-width="0.7"/>
<rect x="500.6" y="395.8" width="10.4" height="119.8" fill="#b8b8b8" fill-opacity="0.5" stroke="#777" stroke-opacity="0.6" stroke-width="0.7"/>
<rect x="511.0" y="454.3" width="10.4" height="61.3" fill="#b8b8b8" fill-opacity="0.5" stroke="#777" stroke-opacity="0.6" stroke-width="0.7"/>
<rect x="521.4" y="487.6" width="10.4" height="28.0" fill="#b8b8b8" fill-opacity="0.5" stroke="#777" stroke-opacity="0.6" stroke-width="0.7"/>
<rect x="531.8" y="499.6" width="10.4" height="16.0" fill="#b8b8b8" fill-opacity="0.5" stroke="#777" stroke-opacity="0.6" stroke-width="0.7"/>
<rect x="542.1" y="454.5" width="10.4" height="61.1" fill="#b8b8b8" fill-opacity="0.5" stroke="#777" stroke-opacity="0.6" stroke-width="0.7"/>
<rect x="552.5" y="449.4" width="10.4" height="66.2" fill="#b8b8b8" fill-opacity="0.5" stroke="#777" stroke-opacity="0.6" stroke-width="0.7"/>
<rect x="562.9" y="502.9" width="10.4" height="12.7" fill="#b8b8b8" fill-opacity="0.5" stroke="#777" stroke-opacity="0.6" stroke-width="0.7"/>
<rect x="573.3" y="503.6" width="10.4" height="12.0" fill="#b8b8b8" fill-opacity="0.5" stroke="#777" stroke-opacity="0.6" stroke-width="0.7"/>
<rect x="583.7" y="509.2" width="10.4" height="6.4" fill="#b8b8b8" fill-opacity="0.5" stroke="#777" stroke-opacity="0.6" stroke-width="0.7"/>
<rect x="594.1" y="510.5" width="10.4" height="5.1" fill="#b8b8b8" fill-opacity="0.5" stroke="#777" stroke-opacity="0.6" stroke-width="0.7"/>
<rect x="604.4" y="513.0" width="10.4" height="2.6" fill="#b8b8b8" fill-opacity="0.5" stroke="#777" stroke-opacity="0.6" stroke-width="0.7"/>
<rect x="614.8" y="511.3" width="10.4" height="4.3" fill="#b8b8b8" fill-opacity="0.5" stroke="#777" stroke-opacity="0.6" stroke-width="0.7"/>
<rect x="479.9" y="512.7" width="10.4" height="2.9" fill="#4a9e4a" fill-opacity="0.75"/>
<rect x="511.0" y="508.0" width="10.4" height="7.6" fill="#4a9e4a" fill-opacity="0.75"/>
<rect x="521.4" y="512.0" width="10.4" height="3.6" fill="#4a9e4a" fill-opacity="0.75"/>
<rect x="531.8" y="508.5" width="10.4" height="7.1" fill="#4a9e4a" fill-opacity="0.75"/>
<rect x="542.1" y="508.0" width="10.4" height="7.6" fill="#4a9e4a" fill-opacity="0.75"/>
<line x1="464.3" y1="515.6" x2="464.3" y2="364.6" stroke="#7a7a7a" stroke-width="1.9" stroke-dasharray="5.55 2.4"/>
<line x1="563.8" y1="515.6" x2="563.8" y2="364.6" stroke="#000" stroke-width="2.0" stroke-dasharray="5.55 2.4"/>
</g>
<rect x="49.1" y="364.6" width="570.9" height="151.0" fill="none" stroke="#000" stroke-width="1.25"/>
<line x1="43.9" y1="364.6" x2="49.1" y2="364.6" stroke="#000" stroke-width="1.1"/>
<text transform="translate(40.5,368.5)" font-size="10.9" text-anchor="end" font-weight="normal" fill="#000" textLength="13.4" lengthAdjust="spacingAndGlyphs">20</text>
<line x1="43.9" y1="402.4" x2="49.1" y2="402.4" stroke="#000" stroke-width="1.1"/>
<text transform="translate(40.5,406.3)" font-size="10.9" text-anchor="end" font-weight="normal" fill="#000" textLength="13.4" lengthAdjust="spacingAndGlyphs">10</text>
<line x1="43.9" y1="440.1" x2="49.1" y2="440.1" stroke="#000" stroke-width="1.1"/>
<text transform="translate(40.5,444.0)" font-size="10.9" text-anchor="end" font-weight="normal" fill="#000" textLength="6.7" lengthAdjust="spacingAndGlyphs">0</text>
<line x1="43.9" y1="477.9" x2="49.1" y2="477.9" stroke="#000" stroke-width="1.1"/>
<text transform="translate(40.5,481.8)" font-size="10.9" text-anchor="end" font-weight="normal" fill="#000" textLength="22.3" lengthAdjust="spacingAndGlyphs">−10</text>
<line x1="43.9" y1="515.6" x2="49.1" y2="515.6" stroke="#000" stroke-width="1.1"/>
<text transform="translate(40.5,519.5)" font-size="10.9" text-anchor="end" font-weight="normal" fill="#000" textLength="22.3" lengthAdjust="spacingAndGlyphs">−20</text>
<line x1="620.0" y1="364.6" x2="625.2" y2="364.6" stroke="#000" stroke-width="1.1"/>
<text transform="translate(628.8,368.5)" font-size="10.9" text-anchor="start" font-weight="normal" fill="#000" textLength="20.1" lengthAdjust="spacingAndGlyphs">400</text>
<line x1="620.0" y1="402.4" x2="625.2" y2="402.4" stroke="#000" stroke-width="1.1"/>
<text transform="translate(628.8,406.3)" font-size="10.9" text-anchor="start" font-weight="normal" fill="#000" textLength="20.1" lengthAdjust="spacingAndGlyphs">300</text>
<line x1="620.0" y1="440.1" x2="625.2" y2="440.1" stroke="#000" stroke-width="1.1"/>
<text transform="translate(628.8,444.0)" font-size="10.9" text-anchor="start" font-weight="normal" fill="#000" textLength="20.1" lengthAdjust="spacingAndGlyphs">200</text>
<line x1="620.0" y1="477.9" x2="625.2" y2="477.9" stroke="#000" stroke-width="1.1"/>
<text transform="translate(628.8,481.8)" font-size="10.9" text-anchor="start" font-weight="normal" fill="#000" textLength="20.1" lengthAdjust="spacingAndGlyphs">100</text>
<line x1="620.0" y1="515.6" x2="625.2" y2="515.6" stroke="#000" stroke-width="1.1"/>
<text transform="translate(628.8,519.5)" font-size="10.9" text-anchor="start" font-weight="normal" fill="#000" textLength="6.7" lengthAdjust="spacingAndGlyphs">0</text>
<text transform="translate(101.0,533.8)" font-size="10.9" text-anchor="middle" font-weight="normal" fill="#000" textLength="60.8" lengthAdjust="spacingAndGlyphs">06/08/2021</text>
<text transform="translate(204.8,533.8)" font-size="10.9" text-anchor="middle" font-weight="normal" fill="#000" textLength="60.8" lengthAdjust="spacingAndGlyphs">16/08/2021</text>
<text transform="translate(308.6,533.8)" font-size="10.9" text-anchor="middle" font-weight="normal" fill="#000" textLength="60.8" lengthAdjust="spacingAndGlyphs">26/08/2021</text>
<text transform="translate(412.4,533.8)" font-size="10.9" text-anchor="middle" font-weight="normal" fill="#000" textLength="60.8" lengthAdjust="spacingAndGlyphs">05/09/2021</text>
<text transform="translate(516.2,533.8)" font-size="10.9" text-anchor="middle" font-weight="normal" fill="#000" textLength="60.8" lengthAdjust="spacingAndGlyphs">15/09/2021</text>
<text transform="translate(620.0,533.8)" font-size="10.9" text-anchor="middle" font-weight="normal" fill="#000" textLength="60.8" lengthAdjust="spacingAndGlyphs">25/09/2021</text>
<text transform="translate(334.5,548.5)" font-size="10.9" text-anchor="middle" font-weight="normal" fill="#000" textLength="25.2" lengthAdjust="spacingAndGlyphs">Date</text>
<text transform="translate(10.2,440.5) rotate(-90)" font-size="10.9" text-anchor="middle" font-weight="normal" fill="#000" textLength="49.3" lengthAdjust="spacingAndGlyphs">Def. (cm)</text>
<text transform="translate(662.0,441.5) rotate(-90)" font-size="10.9" text-anchor="middle" font-weight="normal" fill="#000" textLength="53.9" lengthAdjust="spacingAndGlyphs">Seismicity</text>
<text transform="translate(48.8,358.9)" font-size="12.3" text-anchor="start" font-weight="bold" fill="#000" textLength="14.5" lengthAdjust="spacingAndGlyphs">B)</text>
<rect x="55.2" y="371.8" width="75" height="62.8" rx="2.5" fill="#fff" fill-opacity="0.8" stroke="#ccc" stroke-width="0.9"/>
<line x1="59.7" y1="381.2" x2="87.7" y2="381.2" stroke="#0000ff" stroke-width="1.4"/>
<polygon points="73.70,378.40 74.33,380.33 76.36,380.33 74.72,381.53 75.35,383.47 73.70,382.27 72.05,383.47 72.68,381.53 71.04,380.33 73.07,380.33" fill="#0000ff" stroke="#0000ff" stroke-width="0.75" stroke-linejoin="miter"/>
<text transform="translate(98.9,386.1)" font-size="13.6" text-anchor="start" font-weight="normal" fill="#000" textLength="26.2" lengthAdjust="spacingAndGlyphs">E-W</text>
<line x1="59.7" y1="401.7" x2="87.7" y2="401.7" stroke="#ff9d0a" stroke-width="1.4"/>
<polygon points="73.70,398.90 74.33,400.83 76.36,400.83 74.72,402.03 75.35,403.97 73.70,402.77 72.05,403.97 72.68,402.03 71.04,400.83 73.07,400.83" fill="#ff9d0a" stroke="#ff9d0a" stroke-width="0.75" stroke-linejoin="miter"/>
<text transform="translate(98.9,406.6)" font-size="13.6" text-anchor="start" font-weight="normal" fill="#000" textLength="23.0" lengthAdjust="spacingAndGlyphs">N-S</text>
<line x1="59.7" y1="421.9" x2="87.7" y2="421.9" stroke="#000" stroke-width="1.4"/>
<polygon points="73.70,419.10 74.33,421.03 76.36,421.03 74.72,422.23 75.35,424.17 73.70,422.97 72.05,424.17 72.68,422.23 71.04,421.03 73.07,421.03" fill="#000" stroke="#000" stroke-width="0.75" stroke-linejoin="miter"/>
<text transform="translate(98.9,426.8)" font-size="13.6" text-anchor="start" font-weight="normal" fill="#000" textLength="24.6" lengthAdjust="spacingAndGlyphs">U-D</text>
</svg></body></html>
